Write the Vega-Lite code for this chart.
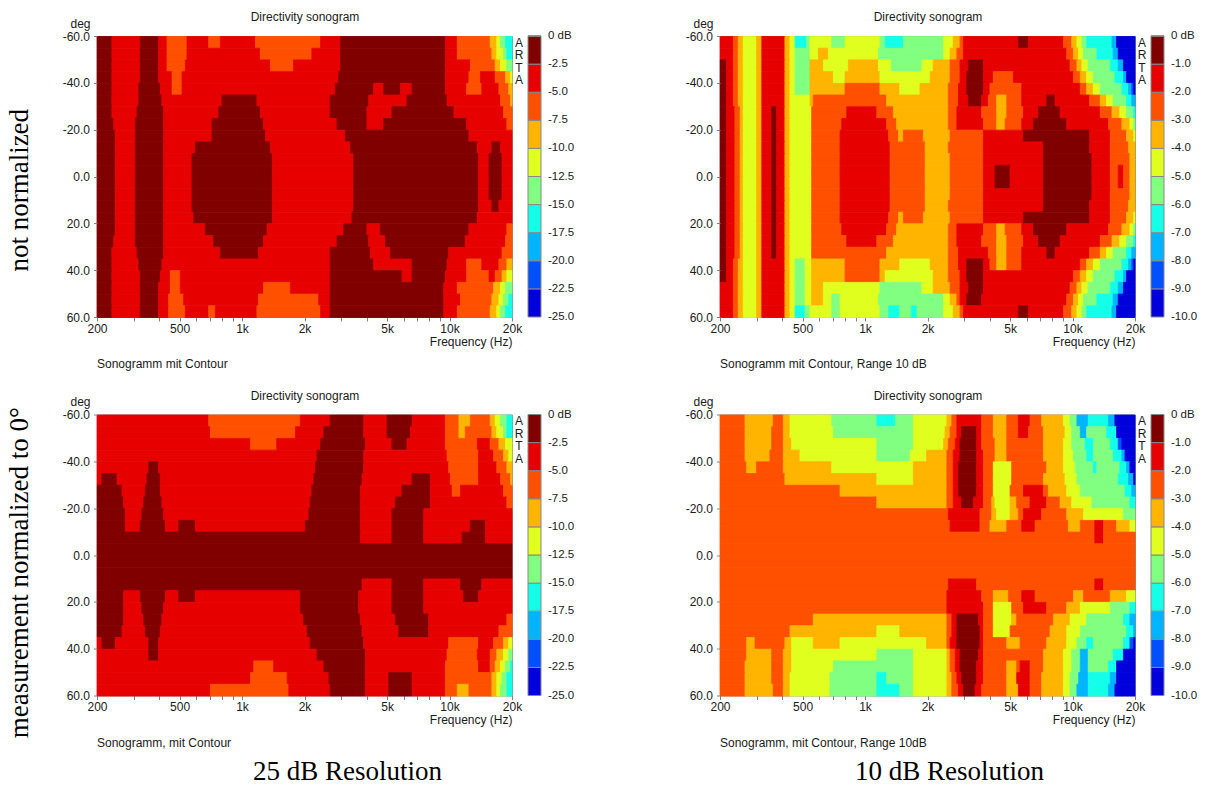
{
  "$schema": "https://vega.github.io/schema/vega-lite/v6.json",
  "padding": {"left": 5, "top": 10, "right": 0, "bottom": 0},
  "background": "white",
  "config": {
    "font": "Liberation Sans",
    "view": {"stroke": "#8c8c8c", "strokeWidth": 1},
    "axis": {"labelFont": "Liberation Sans", "labelFontSize": 12, "labelColor": "#1a1a1a", "titleFont": "Liberation Sans", "titleFontSize": 12, "titleFontWeight": "normal", "titleColor": "#1a1a1a", "tickColor": "#808080", "domain": false, "grid": false},
    "legend": {"labelFont": "Liberation Sans", "labelFontSize": 11.5, "labelColor": "#1a1a1a"},
    "title": {"font": "Liberation Sans", "fontSize": 12, "fontWeight": "normal", "color": "#1a1a1a"}
  },
  "spacing": 17.5,
  "resolve": {"scale": {"color": "independent", "stroke": "independent"}},
  "vconcat": [
    {
      "title": {"text": "not normalized", "orient": "left", "anchor": "middle", "font": "Liberation Serif", "fontSize": 27, "fontWeight": "normal", "color": "#000000", "offset": 28},
      "spacing": 108,
      "resolve": {"scale": {"color": "independent", "stroke": "independent"}},
      "hconcat": [
        {
          "width": 415, "height": 281,
          "data": {"name": "tl"},
          "title": {"text": "Sonogramm mit Contour", "orient": "bottom", "anchor": "start", "frame": "group", "offset": 12},
          "layer": [
            {
              "mark": {"type": "rect", "strokeWidth": 0.8},
              "encoding": {
                "x": {"field": "f", "type": "quantitative", "scale": {"type": "log", "domain": [200, 20000], "nice": false},
                  "axis": {"orient": "bottom", "values": [200, 300, 400, 500, 600, 700, 800, 900, 1000, 2000, 3000, 4000, 5000, 6000, 7000, 8000, 9000, 10000, 20000], "labelExpr": "indexof([200, 500, 1000, 2000, 5000, 10000, 20000], datum.value) < 0 ? '' : (datum.value >= 1000 ? (datum.value / 1000) + 'k' : '' + datum.value)", "labelOverlap": false, "labelFlush": false, "tickSize": 4, "labelPadding": 2, "title": "Frequency (Hz)", "titleAnchor": "end", "titlePadding": 2}},
                "x2": {"field": "g"},
                "y": {"field": "d", "type": "quantitative", "bin": {"step": 5, "extent": [-60, 60]}, "scale": {"domain": [-60, 60], "reverse": true, "nice": false, "zero": false},
                  "axis": {"values": [-60, -40, -20, 0, 20, 40, 60], "labelExpr": "(datum.value < 0 ? '-' : '') + format(abs(datum.value), '.1f')", "labelOverlap": false, "labelFlush": false, "tickSize": 3.5, "labelPadding": 4, "title": "deg", "titleAngle": 0, "titleAlign": "right", "titleBaseline": "middle", "titleX": -7, "titleY": -13}},
                "color": {"field": "v", "type": "quantitative", "scale": {"type": "quantize", "domain": [-25, 0], "nice": false, "range": ["#0000dc", "#0050ff", "#00b4ff", "#14ffe8", "#80ff80", "#e0ff1e", "#ffb400", "#ff5000", "#e60000", "#800000"]},
                  "legend": {"type": "gradient", "direction": "vertical", "orient": "right", "offset": 4.5, "title": null, "padding": 0, "gradientLength": 281, "gradientThickness": 13, "gradientStrokeColor": "#888888", "gradientStrokeWidth": 1, "values": [-25, -22.5, -20, -17.5, -15, -12.5, -10, -7.5, -5, -2.5, 0], "labelExpr": "datum.value == 0 ? '0 dB' : '-' + format(abs(datum.value), '.1f')", "labelOffset": 7, "labelOverlap": false, "labelBaseline": "middle", "encode": {"labels": {"update": {"baseline": {"value": "middle"}}}}}},
                "stroke": {"field": "v", "type": "quantitative", "scale": {"type": "quantize", "domain": [-25, 0], "nice": false, "range": ["#0000dc", "#0050ff", "#00b4ff", "#14ffe8", "#80ff80", "#e0ff1e", "#ffb400", "#ff5000", "#e60000", "#800000"]}, "legend": null}
              }
            },
            {
              "data": {"values": []},
              "mark": {"type": "point", "opacity": 0},
              "encoding": {
                "x": {"field": "f", "type": "quantitative", "scale": {"type": "log", "domain": [200, 20000], "nice": false}, "axis": {"orient": "top", "title": "Directivity sonogram", "labels": false, "ticks": false, "domain": false, "titlePadding": 12.5}},
                "y": {"field": "d", "type": "quantitative", "scale": {"domain": [-60, 60], "reverse": true, "nice": false, "zero": false}, "axis": {"orient": "right", "title": ["A", "R", "T", "A"], "labels": false, "ticks": false, "domain": false, "titleAngle": 0, "titleAlign": "center", "titleBaseline": "top", "titleX": 6.5, "titleY": 1, "titleLineHeight": 12.5}}
              }
            }
          ],
          "resolve": {"axis": {"x": "independent", "y": "independent"}}
        },
        {
          "width": 415, "height": 281,
          "data": {"name": "tr"},
          "title": {"text": "Sonogramm mit Contour, Range 10 dB", "orient": "bottom", "anchor": "start", "frame": "group", "offset": 12},
          "layer": [
            {
              "mark": {"type": "rect", "strokeWidth": 0.8},
              "encoding": {
                "x": {"field": "f", "type": "quantitative", "scale": {"type": "log", "domain": [200, 20000], "nice": false},
                  "axis": {"orient": "bottom", "values": [200, 300, 400, 500, 600, 700, 800, 900, 1000, 2000, 3000, 4000, 5000, 6000, 7000, 8000, 9000, 10000, 20000], "labelExpr": "indexof([200, 500, 1000, 2000, 5000, 10000, 20000], datum.value) < 0 ? '' : (datum.value >= 1000 ? (datum.value / 1000) + 'k' : '' + datum.value)", "labelOverlap": false, "labelFlush": false, "tickSize": 4, "labelPadding": 2, "title": "Frequency (Hz)", "titleAnchor": "end", "titlePadding": 2}},
                "x2": {"field": "g"},
                "y": {"field": "d", "type": "quantitative", "bin": {"step": 5, "extent": [-60, 60]}, "scale": {"domain": [-60, 60], "reverse": true, "nice": false, "zero": false},
                  "axis": {"values": [-60, -40, -20, 0, 20, 40, 60], "labelExpr": "(datum.value < 0 ? '-' : '') + format(abs(datum.value), '.1f')", "labelOverlap": false, "labelFlush": false, "tickSize": 3.5, "labelPadding": 4, "title": "deg", "titleAngle": 0, "titleAlign": "right", "titleBaseline": "middle", "titleX": -7, "titleY": -13}},
                "color": {"field": "v", "type": "quantitative", "scale": {"type": "quantize", "domain": [-10, 0], "nice": false, "range": ["#0000dc", "#0050ff", "#00b4ff", "#14ffe8", "#80ff80", "#e0ff1e", "#ffb400", "#ff5000", "#e60000", "#800000"]},
                  "legend": {"type": "gradient", "direction": "vertical", "orient": "right", "offset": 4.5, "title": null, "padding": 0, "gradientLength": 281, "gradientThickness": 13, "gradientStrokeColor": "#888888", "gradientStrokeWidth": 1, "values": [-10, -9, -8, -7, -6, -5, -4, -3, -2, -1, 0], "labelExpr": "datum.value == 0 ? '0 dB' : '-' + format(abs(datum.value), '.1f')", "labelOffset": 7, "labelOverlap": false, "labelBaseline": "middle", "encode": {"labels": {"update": {"baseline": {"value": "middle"}}}}}},
                "stroke": {"field": "v", "type": "quantitative", "scale": {"type": "quantize", "domain": [-10, 0], "nice": false, "range": ["#0000dc", "#0050ff", "#00b4ff", "#14ffe8", "#80ff80", "#e0ff1e", "#ffb400", "#ff5000", "#e60000", "#800000"]}, "legend": null}
              }
            },
            {
              "data": {"values": []},
              "mark": {"type": "point", "opacity": 0},
              "encoding": {
                "x": {"field": "f", "type": "quantitative", "scale": {"type": "log", "domain": [200, 20000], "nice": false}, "axis": {"orient": "top", "title": "Directivity sonogram", "labels": false, "ticks": false, "domain": false, "titlePadding": 12.5}},
                "y": {"field": "d", "type": "quantitative", "scale": {"domain": [-60, 60], "reverse": true, "nice": false, "zero": false}, "axis": {"orient": "right", "title": ["A", "R", "T", "A"], "labels": false, "ticks": false, "domain": false, "titleAngle": 0, "titleAlign": "center", "titleBaseline": "top", "titleX": 6.5, "titleY": 1, "titleLineHeight": 12.5}}
              }
            }
          ],
          "resolve": {"axis": {"x": "independent", "y": "independent"}}
        }
      ]
    },
    {
      "title": {"text": "measurement normalized to 0°", "orient": "left", "anchor": "middle", "font": "Liberation Serif", "fontSize": 27, "fontWeight": "normal", "color": "#000000", "offset": 28, "dx": 14},
      "spacing": 108,
      "resolve": {"scale": {"color": "independent", "stroke": "independent"}},
      "hconcat": [
        {
          "title": {"text": "25 dB Resolution", "orient": "bottom", "anchor": "middle", "font": "Liberation Serif", "fontSize": 27, "fontWeight": "normal", "color": "#000000", "offset": 10, "dx": 29},
          "resolve": {"scale": {"color": "independent", "stroke": "independent"}},
          "vconcat": [
            {
              "width": 415, "height": 281,
              "data": {"name": "bl"},
              "title": {"text": "Sonogramm, mit Contour", "orient": "bottom", "anchor": "start", "frame": "group", "offset": 12},
              "layer": [
                {
                  "mark": {"type": "rect", "strokeWidth": 0.8},
                  "encoding": {
                    "x": {"field": "f", "type": "quantitative", "scale": {"type": "log", "domain": [200, 20000], "nice": false},
                      "axis": {"orient": "bottom", "values": [200, 300, 400, 500, 600, 700, 800, 900, 1000, 2000, 3000, 4000, 5000, 6000, 7000, 8000, 9000, 10000, 20000], "labelExpr": "indexof([200, 500, 1000, 2000, 5000, 10000, 20000], datum.value) < 0 ? '' : (datum.value >= 1000 ? (datum.value / 1000) + 'k' : '' + datum.value)", "labelOverlap": false, "labelFlush": false, "tickSize": 4, "labelPadding": 2, "title": "Frequency (Hz)", "titleAnchor": "end", "titlePadding": 2}},
                    "x2": {"field": "g"},
                    "y": {"field": "d", "type": "quantitative", "bin": {"step": 5, "extent": [-60, 60]}, "scale": {"domain": [-60, 60], "reverse": true, "nice": false, "zero": false},
                      "axis": {"values": [-60, -40, -20, 0, 20, 40, 60], "labelExpr": "(datum.value < 0 ? '-' : '') + format(abs(datum.value), '.1f')", "labelOverlap": false, "labelFlush": false, "tickSize": 3.5, "labelPadding": 4, "title": "deg", "titleAngle": 0, "titleAlign": "right", "titleBaseline": "middle", "titleX": -7, "titleY": -13}},
                    "color": {"field": "v", "type": "quantitative", "scale": {"type": "quantize", "domain": [-25, 0], "nice": false, "range": ["#0000dc", "#0050ff", "#00b4ff", "#14ffe8", "#80ff80", "#e0ff1e", "#ffb400", "#ff5000", "#e60000", "#800000"]},
                      "legend": {"type": "gradient", "direction": "vertical", "orient": "right", "offset": 4.5, "title": null, "padding": 0, "gradientLength": 281, "gradientThickness": 13, "gradientStrokeColor": "#888888", "gradientStrokeWidth": 1, "values": [-25, -22.5, -20, -17.5, -15, -12.5, -10, -7.5, -5, -2.5, 0], "labelExpr": "datum.value == 0 ? '0 dB' : '-' + format(abs(datum.value), '.1f')", "labelOffset": 7, "labelOverlap": false, "labelBaseline": "middle", "encode": {"labels": {"update": {"baseline": {"value": "middle"}}}}}},
                    "stroke": {"field": "v", "type": "quantitative", "scale": {"type": "quantize", "domain": [-25, 0], "nice": false, "range": ["#0000dc", "#0050ff", "#00b4ff", "#14ffe8", "#80ff80", "#e0ff1e", "#ffb400", "#ff5000", "#e60000", "#800000"]}, "legend": null}
                  }
                },
                {
                  "data": {"values": []},
                  "mark": {"type": "point", "opacity": 0},
                  "encoding": {
                    "x": {"field": "f", "type": "quantitative", "scale": {"type": "log", "domain": [200, 20000], "nice": false}, "axis": {"orient": "top", "title": "Directivity sonogram", "labels": false, "ticks": false, "domain": false, "titlePadding": 12.5}},
                    "y": {"field": "d", "type": "quantitative", "scale": {"domain": [-60, 60], "reverse": true, "nice": false, "zero": false}, "axis": {"orient": "right", "title": ["A", "R", "T", "A"], "labels": false, "ticks": false, "domain": false, "titleAngle": 0, "titleAlign": "center", "titleBaseline": "top", "titleX": 6.5, "titleY": 1, "titleLineHeight": 12.5}}
                  }
                }
              ],
              "resolve": {"axis": {"x": "independent", "y": "independent"}}
            }
          ]
        },
        {
          "title": {"text": "10 dB Resolution", "orient": "bottom", "anchor": "middle", "font": "Liberation Serif", "fontSize": 27, "fontWeight": "normal", "color": "#000000", "offset": 10, "dx": 8},
          "resolve": {"scale": {"color": "independent", "stroke": "independent"}},
          "vconcat": [
            {
              "width": 415, "height": 281,
              "data": {"name": "br"},
              "title": {"text": "Sonogramm, mit Contour, Range 10dB", "orient": "bottom", "anchor": "start", "frame": "group", "offset": 12},
              "layer": [
                {
                  "mark": {"type": "rect", "strokeWidth": 0.8},
                  "encoding": {
                    "x": {"field": "f", "type": "quantitative", "scale": {"type": "log", "domain": [200, 20000], "nice": false},
                      "axis": {"orient": "bottom", "values": [200, 300, 400, 500, 600, 700, 800, 900, 1000, 2000, 3000, 4000, 5000, 6000, 7000, 8000, 9000, 10000, 20000], "labelExpr": "indexof([200, 500, 1000, 2000, 5000, 10000, 20000], datum.value) < 0 ? '' : (datum.value >= 1000 ? (datum.value / 1000) + 'k' : '' + datum.value)", "labelOverlap": false, "labelFlush": false, "tickSize": 4, "labelPadding": 2, "title": "Frequency (Hz)", "titleAnchor": "end", "titlePadding": 2}},
                    "x2": {"field": "g"},
                    "y": {"field": "d", "type": "quantitative", "bin": {"step": 5, "extent": [-60, 60]}, "scale": {"domain": [-60, 60], "reverse": true, "nice": false, "zero": false},
                      "axis": {"values": [-60, -40, -20, 0, 20, 40, 60], "labelExpr": "(datum.value < 0 ? '-' : '') + format(abs(datum.value), '.1f')", "labelOverlap": false, "labelFlush": false, "tickSize": 3.5, "labelPadding": 4, "title": "deg", "titleAngle": 0, "titleAlign": "right", "titleBaseline": "middle", "titleX": -7, "titleY": -13}},
                    "color": {"field": "v", "type": "quantitative", "scale": {"type": "quantize", "domain": [-10, 0], "nice": false, "range": ["#0000dc", "#0050ff", "#00b4ff", "#14ffe8", "#80ff80", "#e0ff1e", "#ffb400", "#ff5000", "#e60000", "#800000"]},
                      "legend": {"type": "gradient", "direction": "vertical", "orient": "right", "offset": 4.5, "title": null, "padding": 0, "gradientLength": 281, "gradientThickness": 13, "gradientStrokeColor": "#888888", "gradientStrokeWidth": 1, "values": [-10, -9, -8, -7, -6, -5, -4, -3, -2, -1, 0], "labelExpr": "datum.value == 0 ? '0 dB' : '-' + format(abs(datum.value), '.1f')", "labelOffset": 7, "labelOverlap": false, "labelBaseline": "middle", "encode": {"labels": {"update": {"baseline": {"value": "middle"}}}}}},
                    "stroke": {"field": "v", "type": "quantitative", "scale": {"type": "quantize", "domain": [-10, 0], "nice": false, "range": ["#0000dc", "#0050ff", "#00b4ff", "#14ffe8", "#80ff80", "#e0ff1e", "#ffb400", "#ff5000", "#e60000", "#800000"]}, "legend": null}
                  }
                },
                {
                  "data": {"values": []},
                  "mark": {"type": "point", "opacity": 0},
                  "encoding": {
                    "x": {"field": "f", "type": "quantitative", "scale": {"type": "log", "domain": [200, 20000], "nice": false}, "axis": {"orient": "top", "title": "Directivity sonogram", "labels": false, "ticks": false, "domain": false, "titlePadding": 12.5}},
                    "y": {"field": "d", "type": "quantitative", "scale": {"domain": [-60, 60], "reverse": true, "nice": false, "zero": false}, "axis": {"orient": "right", "title": ["A", "R", "T", "A"], "labels": false, "ticks": false, "domain": false, "titleAngle": 0, "titleAlign": "center", "titleBaseline": "top", "titleX": 6.5, "titleY": 1, "titleLineHeight": 12.5}}
                  }
                }
              ],
              "resolve": {"axis": {"x": "independent", "y": "independent"}}
            }
          ]
        }
      ]
    }
  ],
  "datasets": {
    "tl": [
      {"d":-60,"f":200,"g":236,"v":-1},{"d":-60,"f":236,"g":323,"v":-4},{"d":-60,"f":323,"g":396,"v":-1},{"d":-60,"f":396,"g":435,"v":-4},{"d":-60,"f":435,"g":543,"v":-6},{"d":-60,"f":543,"g":691,"v":-4},{"d":-60,"f":691,"g":786,"v":-6},{"d":-60,"f":786,"g":1160,"v":-4},{"d":-60,"f":1160,"g":2390,"v":-6},{"d":-60,"f":2390,"g":2980,"v":-4},{"d":-60,"f":2980,"g":9550,"v":-1},{"d":-60,"f":9550,"g":10900,"v":-4},{"d":-60,"f":10900,"g":15700,"v":-6},{"d":-60,"f":15700,"g":16900,"v":-9},{"d":-60,"f":16900,"g":17600,"v":-11},{"d":-60,"f":17600,"g":18600,"v":-14},{"d":-60,"f":18600,"g":20000,"v":-16},
      {"d":-55,"f":200,"g":236,"v":-1},{"d":-55,"f":236,"g":323,"v":-4},{"d":-55,"f":323,"g":396,"v":-1},{"d":-55,"f":396,"g":435,"v":-4},{"d":-55,"f":435,"g":543,"v":-6},{"d":-55,"f":543,"g":1225,"v":-4},{"d":-55,"f":1225,"g":2170,"v":-6},{"d":-55,"f":2170,"g":2980,"v":-4},{"d":-55,"f":2980,"g":9550,"v":-1},{"d":-55,"f":9550,"g":10900,"v":-4},{"d":-55,"f":10900,"g":16000,"v":-6},{"d":-55,"f":16000,"g":16900,"v":-9},{"d":-55,"f":16900,"g":18200,"v":-11},{"d":-55,"f":18200,"g":18900,"v":-14},{"d":-55,"f":18900,"g":20000,"v":-16},
      {"d":-50,"f":200,"g":236,"v":-1},{"d":-50,"f":236,"g":323,"v":-4},{"d":-50,"f":323,"g":396,"v":-1},{"d":-50,"f":396,"g":435,"v":-4},{"d":-50,"f":435,"g":533,"v":-6},{"d":-50,"f":533,"g":1370,"v":-4},{"d":-50,"f":1370,"g":1770,"v":-6},{"d":-50,"f":1770,"g":2980,"v":-4},{"d":-50,"f":2980,"g":9550,"v":-1},{"d":-50,"f":9550,"g":12600,"v":-4},{"d":-50,"f":12600,"g":16600,"v":-6},{"d":-50,"f":16600,"g":17600,"v":-9},{"d":-50,"f":17600,"g":18900,"v":-11},{"d":-50,"f":18900,"g":20000,"v":-14},
      {"d":-45,"f":200,"g":236,"v":-1},{"d":-45,"f":236,"g":323,"v":-4},{"d":-45,"f":323,"g":396,"v":-1},{"d":-45,"f":396,"g":460,"v":-4},{"d":-45,"f":460,"g":514,"v":-6},{"d":-45,"f":514,"g":2920,"v":-4},{"d":-45,"f":2920,"g":9550,"v":-1},{"d":-45,"f":9550,"g":12400,"v":-4},{"d":-45,"f":12400,"g":14100,"v":-6},{"d":-45,"f":14100,"g":16600,"v":-4},{"d":-45,"f":16600,"g":18600,"v":-6},{"d":-45,"f":18600,"g":19700,"v":-9},{"d":-45,"f":19700,"g":20000,"v":-11},
      {"d":-40,"f":200,"g":236,"v":-1},{"d":-40,"f":236,"g":318,"v":-4},{"d":-40,"f":318,"g":404,"v":-1},{"d":-40,"f":404,"g":460,"v":-4},{"d":-40,"f":460,"g":514,"v":-6},{"d":-40,"f":514,"g":2820,"v":-4},{"d":-40,"f":2820,"g":4310,"v":-1},{"d":-40,"f":4310,"g":4820,"v":-4},{"d":-40,"f":4820,"g":5800,"v":-1},{"d":-40,"f":5800,"g":6600,"v":-4},{"d":-40,"f":6600,"g":9550,"v":-1},{"d":-40,"f":9550,"g":12100,"v":-4},{"d":-40,"f":12100,"g":14300,"v":-6},{"d":-40,"f":14300,"g":17300,"v":-4},{"d":-40,"f":17300,"g":19300,"v":-6},{"d":-40,"f":19300,"g":20000,"v":-9},
      {"d":-35,"f":200,"g":236,"v":-1},{"d":-35,"f":236,"g":318,"v":-4},{"d":-35,"f":318,"g":411,"v":-1},{"d":-35,"f":411,"g":801,"v":-4},{"d":-35,"f":801,"g":1180,"v":-1},{"d":-35,"f":1180,"g":2660,"v":-4},{"d":-35,"f":2660,"g":4080,"v":-1},{"d":-35,"f":4080,"g":6240,"v":-4},{"d":-35,"f":6240,"g":9730,"v":-1},{"d":-35,"f":9730,"g":17600,"v":-4},{"d":-35,"f":17600,"g":19700,"v":-6},{"d":-35,"f":19700,"g":20000,"v":-9},
      {"d":-30,"f":200,"g":236,"v":-1},{"d":-30,"f":236,"g":312,"v":-4},{"d":-30,"f":312,"g":419,"v":-1},{"d":-30,"f":419,"g":772,"v":-4},{"d":-30,"f":772,"g":1225,"v":-1},{"d":-30,"f":1225,"g":2660,"v":-4},{"d":-30,"f":2660,"g":4000,"v":-1},{"d":-30,"f":4000,"g":5280,"v":-4},{"d":-30,"f":5280,"g":10500,"v":-1},{"d":-30,"f":10500,"g":18200,"v":-4},{"d":-30,"f":18200,"g":20000,"v":-6},
      {"d":-25,"f":200,"g":241,"v":-1},{"d":-25,"f":241,"g":306,"v":-4},{"d":-25,"f":306,"g":419,"v":-1},{"d":-25,"f":419,"g":717,"v":-4},{"d":-25,"f":717,"g":1270,"v":-1},{"d":-25,"f":1270,"g":2870,"v":-4},{"d":-25,"f":2870,"g":4000,"v":-1},{"d":-25,"f":4000,"g":4820,"v":-4},{"d":-25,"f":4820,"g":12100,"v":-1},{"d":-25,"f":12100,"g":18900,"v":-4},{"d":-25,"f":18900,"g":20000,"v":-6},
      {"d":-20,"f":200,"g":245,"v":-1},{"d":-20,"f":245,"g":306,"v":-4},{"d":-20,"f":306,"g":419,"v":-1},{"d":-20,"f":419,"g":717,"v":-4},{"d":-20,"f":717,"g":1300,"v":-1},{"d":-20,"f":1300,"g":3150,"v":-4},{"d":-20,"f":3150,"g":12400,"v":-1},{"d":-20,"f":12400,"g":20000,"v":-4},
      {"d":-15,"f":200,"g":245,"v":-1},{"d":-15,"f":245,"g":306,"v":-4},{"d":-15,"f":306,"g":419,"v":-1},{"d":-15,"f":419,"g":596,"v":-4},{"d":-15,"f":596,"g":1370,"v":-1},{"d":-15,"f":1370,"g":3330,"v":-4},{"d":-15,"f":3330,"g":13600,"v":-1},{"d":-15,"f":13600,"g":16000,"v":-4},{"d":-15,"f":16000,"g":17600,"v":-1},{"d":-15,"f":17600,"g":20000,"v":-4},
      {"d":-10,"f":200,"g":245,"v":-1},{"d":-10,"f":245,"g":306,"v":-4},{"d":-10,"f":306,"g":419,"v":-1},{"d":-10,"f":419,"g":574,"v":-4},{"d":-10,"f":574,"g":1400,"v":-1},{"d":-10,"f":1400,"g":3450,"v":-4},{"d":-10,"f":3450,"g":13800,"v":-1},{"d":-10,"f":13800,"g":15500,"v":-4},{"d":-10,"f":15500,"g":17900,"v":-1},{"d":-10,"f":17900,"g":20000,"v":-4},
      {"d":-5,"f":200,"g":245,"v":-1},{"d":-5,"f":245,"g":306,"v":-4},{"d":-5,"f":306,"g":419,"v":-1},{"d":-5,"f":419,"g":574,"v":-4},{"d":-5,"f":574,"g":1400,"v":-1},{"d":-5,"f":1400,"g":3450,"v":-4},{"d":-5,"f":3450,"g":13800,"v":-1},{"d":-5,"f":13800,"g":15500,"v":-4},{"d":-5,"f":15500,"g":17900,"v":-1},{"d":-5,"f":17900,"g":20000,"v":-4},
      {"d":0,"f":200,"g":245,"v":-1},{"d":0,"f":245,"g":306,"v":-4},{"d":0,"f":306,"g":419,"v":-1},{"d":0,"f":419,"g":574,"v":-4},{"d":0,"f":574,"g":1400,"v":-1},{"d":0,"f":1400,"g":3450,"v":-4},{"d":0,"f":3450,"g":13800,"v":-1},{"d":0,"f":13800,"g":15500,"v":-4},{"d":0,"f":15500,"g":17900,"v":-1},{"d":0,"f":17900,"g":20000,"v":-4},
      {"d":5,"f":200,"g":245,"v":-1},{"d":5,"f":245,"g":306,"v":-4},{"d":5,"f":306,"g":419,"v":-1},{"d":5,"f":419,"g":574,"v":-4},{"d":5,"f":574,"g":1400,"v":-1},{"d":5,"f":1400,"g":3450,"v":-4},{"d":5,"f":3450,"g":13800,"v":-1},{"d":5,"f":13800,"g":15500,"v":-4},{"d":5,"f":15500,"g":17900,"v":-1},{"d":5,"f":17900,"g":20000,"v":-4},
      {"d":10,"f":200,"g":245,"v":-1},{"d":10,"f":245,"g":306,"v":-4},{"d":10,"f":306,"g":419,"v":-1},{"d":10,"f":419,"g":574,"v":-4},{"d":10,"f":574,"g":1400,"v":-1},{"d":10,"f":1400,"g":3450,"v":-4},{"d":10,"f":3450,"g":13800,"v":-1},{"d":10,"f":13800,"g":16000,"v":-4},{"d":10,"f":16000,"g":17300,"v":-1},{"d":10,"f":17300,"g":20000,"v":-4},
      {"d":15,"f":200,"g":245,"v":-1},{"d":15,"f":245,"g":306,"v":-4},{"d":15,"f":306,"g":419,"v":-1},{"d":15,"f":419,"g":585,"v":-4},{"d":15,"f":585,"g":1400,"v":-1},{"d":15,"f":1400,"g":3390,"v":-4},{"d":15,"f":3390,"g":13600,"v":-1},{"d":15,"f":13600,"g":20000,"v":-4},
      {"d":20,"f":200,"g":245,"v":-1},{"d":20,"f":245,"g":306,"v":-4},{"d":20,"f":306,"g":419,"v":-1},{"d":20,"f":419,"g":666,"v":-4},{"d":20,"f":666,"g":1320,"v":-1},{"d":20,"f":1320,"g":3090,"v":-4},{"d":20,"f":3090,"g":4000,"v":-1},{"d":20,"f":4000,"g":4640,"v":-4},{"d":20,"f":4640,"g":12400,"v":-1},{"d":20,"f":12400,"g":18900,"v":-4},{"d":20,"f":18900,"g":20000,"v":-6},
      {"d":25,"f":200,"g":241,"v":-1},{"d":25,"f":241,"g":306,"v":-4},{"d":25,"f":306,"g":419,"v":-1},{"d":25,"f":419,"g":730,"v":-4},{"d":25,"f":730,"g":1270,"v":-1},{"d":25,"f":1270,"g":2870,"v":-4},{"d":25,"f":2870,"g":4080,"v":-1},{"d":25,"f":4080,"g":4910,"v":-4},{"d":25,"f":4910,"g":11900,"v":-1},{"d":25,"f":11900,"g":18600,"v":-4},{"d":25,"f":18600,"g":20000,"v":-6},
      {"d":30,"f":200,"g":236,"v":-1},{"d":30,"f":236,"g":312,"v":-4},{"d":30,"f":312,"g":419,"v":-1},{"d":30,"f":419,"g":786,"v":-4},{"d":30,"f":786,"g":1200,"v":-1},{"d":30,"f":1200,"g":2660,"v":-4},{"d":30,"f":2660,"g":4150,"v":-1},{"d":30,"f":4150,"g":5190,"v":-4},{"d":30,"f":5190,"g":9910,"v":-1},{"d":30,"f":9910,"g":17900,"v":-4},{"d":30,"f":17900,"g":20000,"v":-6},
      {"d":35,"f":200,"g":236,"v":-1},{"d":35,"f":236,"g":318,"v":-4},{"d":35,"f":318,"g":411,"v":-1},{"d":35,"f":411,"g":2660,"v":-4},{"d":35,"f":2660,"g":4310,"v":-1},{"d":35,"f":4310,"g":6600,"v":-4},{"d":35,"f":6600,"g":9730,"v":-1},{"d":35,"f":9730,"g":12100,"v":-4},{"d":35,"f":12100,"g":14300,"v":-6},{"d":35,"f":14300,"g":17300,"v":-4},{"d":35,"f":17300,"g":18900,"v":-6},{"d":35,"f":18900,"g":20000,"v":-9},
      {"d":40,"f":200,"g":236,"v":-1},{"d":40,"f":236,"g":323,"v":-4},{"d":40,"f":323,"g":404,"v":-1},{"d":40,"f":404,"g":451,"v":-4},{"d":40,"f":451,"g":504,"v":-6},{"d":40,"f":504,"g":2660,"v":-4},{"d":40,"f":2660,"g":5900,"v":-1},{"d":40,"f":5900,"g":6600,"v":-4},{"d":40,"f":6600,"g":9550,"v":-1},{"d":40,"f":9550,"g":12100,"v":-4},{"d":40,"f":12100,"g":15500,"v":-6},{"d":40,"f":15500,"g":16600,"v":-4},{"d":40,"f":16600,"g":17900,"v":-6},{"d":40,"f":17900,"g":18900,"v":-9},{"d":40,"f":18900,"g":20000,"v":-11},
      {"d":45,"f":200,"g":236,"v":-1},{"d":45,"f":236,"g":323,"v":-4},{"d":45,"f":323,"g":396,"v":-1},{"d":45,"f":396,"g":451,"v":-4},{"d":45,"f":451,"g":504,"v":-6},{"d":45,"f":504,"g":1270,"v":-4},{"d":45,"f":1270,"g":1710,"v":-6},{"d":45,"f":1710,"g":2660,"v":-4},{"d":45,"f":2660,"g":9380,"v":-1},{"d":45,"f":9380,"g":10900,"v":-4},{"d":45,"f":10900,"g":16300,"v":-6},{"d":45,"f":16300,"g":17600,"v":-9},{"d":45,"f":17600,"g":18600,"v":-11},{"d":45,"f":18600,"g":20000,"v":-14},
      {"d":50,"f":200,"g":236,"v":-1},{"d":50,"f":236,"g":323,"v":-4},{"d":50,"f":323,"g":396,"v":-1},{"d":50,"f":396,"g":443,"v":-4},{"d":50,"f":443,"g":523,"v":-6},{"d":50,"f":523,"g":1200,"v":-4},{"d":50,"f":1200,"g":2340,"v":-6},{"d":50,"f":2340,"g":2660,"v":-4},{"d":50,"f":2660,"g":9380,"v":-1},{"d":50,"f":9380,"g":11300,"v":-4},{"d":50,"f":11300,"g":16000,"v":-6},{"d":50,"f":16000,"g":17300,"v":-9},{"d":50,"f":17300,"g":18200,"v":-11},{"d":50,"f":18200,"g":19300,"v":-14},{"d":50,"f":19300,"g":20000,"v":-16},
      {"d":55,"f":200,"g":236,"v":-1},{"d":55,"f":236,"g":323,"v":-4},{"d":55,"f":323,"g":396,"v":-1},{"d":55,"f":396,"g":443,"v":-4},{"d":55,"f":443,"g":533,"v":-6},{"d":55,"f":533,"g":691,"v":-4},{"d":55,"f":691,"g":744,"v":-6},{"d":55,"f":744,"g":1180,"v":-4},{"d":55,"f":1180,"g":2390,"v":-6},{"d":55,"f":2390,"g":2660,"v":-4},{"d":55,"f":2660,"g":9380,"v":-1},{"d":55,"f":9380,"g":10900,"v":-4},{"d":55,"f":10900,"g":15700,"v":-6},{"d":55,"f":15700,"g":16900,"v":-9},{"d":55,"f":16900,"g":17600,"v":-11},{"d":55,"f":17600,"g":18600,"v":-14},{"d":55,"f":18600,"g":20000,"v":-16}
    ],
    "bl": [
      {"d":-60,"f":200,"g":691,"v":-4},{"d":-60,"f":691,"g":1910,"v":-6},{"d":-60,"f":1910,"g":2660,"v":-4},{"d":-60,"f":2660,"g":3860,"v":-1},{"d":-60,"f":3860,"g":5000,"v":-4},{"d":-60,"f":5000,"g":6600,"v":-1},{"d":-60,"f":6600,"g":9550,"v":-4},{"d":-60,"f":9550,"g":11100,"v":-6},{"d":-60,"f":11100,"g":12600,"v":-9},{"d":-60,"f":12600,"g":15700,"v":-6},{"d":-60,"f":15700,"g":16600,"v":-9},{"d":-60,"f":16600,"g":17600,"v":-11},{"d":-60,"f":17600,"g":18900,"v":-14},{"d":-60,"f":18900,"g":20000,"v":-16},
      {"d":-55,"f":200,"g":704,"v":-4},{"d":-55,"f":704,"g":1810,"v":-6},{"d":-55,"f":1810,"g":2480,"v":-4},{"d":-55,"f":2480,"g":3860,"v":-1},{"d":-55,"f":3860,"g":5000,"v":-4},{"d":-55,"f":5000,"g":6480,"v":-1},{"d":-55,"f":6480,"g":9550,"v":-4},{"d":-55,"f":9550,"g":11100,"v":-6},{"d":-55,"f":11100,"g":11900,"v":-9},{"d":-55,"f":11900,"g":16000,"v":-6},{"d":-55,"f":16000,"g":16900,"v":-9},{"d":-55,"f":16900,"g":18200,"v":-11},{"d":-55,"f":18200,"g":18900,"v":-14},{"d":-55,"f":18900,"g":20000,"v":-16},
      {"d":-50,"f":200,"g":1100,"v":-4},{"d":-50,"f":1100,"g":1470,"v":-6},{"d":-50,"f":1470,"g":2390,"v":-4},{"d":-50,"f":2390,"g":3930,"v":-1},{"d":-50,"f":3930,"g":5280,"v":-4},{"d":-50,"f":5280,"g":6240,"v":-1},{"d":-50,"f":6240,"g":9550,"v":-4},{"d":-50,"f":9550,"g":13600,"v":-6},{"d":-50,"f":13600,"g":15700,"v":-4},{"d":-50,"f":15700,"g":17300,"v":-6},{"d":-50,"f":17300,"g":18600,"v":-9},{"d":-50,"f":18600,"g":20000,"v":-11},
      {"d":-45,"f":200,"g":2300,"v":-4},{"d":-45,"f":2300,"g":3860,"v":-1},{"d":-45,"f":3860,"g":9730,"v":-4},{"d":-45,"f":9730,"g":13800,"v":-6},{"d":-45,"f":13800,"g":16300,"v":-4},{"d":-45,"f":16300,"g":18200,"v":-6},{"d":-45,"f":18200,"g":19300,"v":-9},{"d":-45,"f":19300,"g":20000,"v":-11},
      {"d":-40,"f":200,"g":355,"v":-4},{"d":-40,"f":355,"g":396,"v":-1},{"d":-40,"f":396,"g":2260,"v":-4},{"d":-40,"f":2260,"g":3860,"v":-1},{"d":-40,"f":3860,"g":9910,"v":-4},{"d":-40,"f":9910,"g":13800,"v":-6},{"d":-40,"f":13800,"g":16900,"v":-4},{"d":-40,"f":16900,"g":18900,"v":-6},{"d":-40,"f":18900,"g":20000,"v":-9},
      {"d":-35,"f":200,"g":211,"v":-4},{"d":-35,"f":211,"g":250,"v":-1},{"d":-35,"f":250,"g":348,"v":-4},{"d":-35,"f":348,"g":404,"v":-1},{"d":-35,"f":404,"g":2220,"v":-4},{"d":-35,"f":2220,"g":3790,"v":-1},{"d":-35,"f":3790,"g":6600,"v":-4},{"d":-35,"f":6600,"g":8090,"v":-1},{"d":-35,"f":8090,"g":10100,"v":-4},{"d":-35,"f":10100,"g":13800,"v":-6},{"d":-35,"f":13800,"g":17600,"v":-4},{"d":-35,"f":17600,"g":19700,"v":-6},{"d":-35,"f":19700,"g":20000,"v":-9},
      {"d":-30,"f":200,"g":264,"v":-1},{"d":-30,"f":264,"g":342,"v":-4},{"d":-30,"f":342,"g":404,"v":-1},{"d":-30,"f":404,"g":2170,"v":-4},{"d":-30,"f":2170,"g":3720,"v":-1},{"d":-30,"f":3720,"g":5900,"v":-4},{"d":-30,"f":5900,"g":8090,"v":-1},{"d":-30,"f":8090,"g":10300,"v":-4},{"d":-30,"f":10300,"g":11300,"v":-6},{"d":-30,"f":11300,"g":18200,"v":-4},{"d":-30,"f":18200,"g":20000,"v":-6},
      {"d":-25,"f":200,"g":269,"v":-1},{"d":-25,"f":269,"g":336,"v":-4},{"d":-25,"f":336,"g":411,"v":-1},{"d":-25,"f":411,"g":2130,"v":-4},{"d":-25,"f":2130,"g":3720,"v":-1},{"d":-25,"f":3720,"g":5480,"v":-4},{"d":-25,"f":5480,"g":8090,"v":-1},{"d":-25,"f":8090,"g":18900,"v":-4},{"d":-25,"f":18900,"g":20000,"v":-6},
      {"d":-20,"f":200,"g":274,"v":-1},{"d":-20,"f":274,"g":329,"v":-4},{"d":-20,"f":329,"g":419,"v":-1},{"d":-20,"f":419,"g":2100,"v":-4},{"d":-20,"f":2100,"g":3720,"v":-1},{"d":-20,"f":3720,"g":5280,"v":-4},{"d":-20,"f":5280,"g":7510,"v":-1},{"d":-20,"f":7510,"g":20000,"v":-4},
      {"d":-15,"f":200,"g":274,"v":-1},{"d":-15,"f":274,"g":323,"v":-4},{"d":-15,"f":323,"g":427,"v":-1},{"d":-15,"f":427,"g":495,"v":-4},{"d":-15,"f":495,"g":596,"v":-1},{"d":-15,"f":596,"g":2020,"v":-4},{"d":-15,"f":2020,"g":3720,"v":-1},{"d":-15,"f":3720,"g":5280,"v":-4},{"d":-15,"f":5280,"g":7510,"v":-1},{"d":-15,"f":7510,"g":12600,"v":-4},{"d":-15,"f":12600,"g":14900,"v":-1},{"d":-15,"f":14900,"g":20000,"v":-4},
      {"d":-10,"f":200,"g":3720,"v":-1},{"d":-10,"f":3720,"g":5280,"v":-4},{"d":-10,"f":5280,"g":7510,"v":-1},{"d":-10,"f":7510,"g":11500,"v":-4},{"d":-10,"f":11500,"g":14900,"v":-1},{"d":-10,"f":14900,"g":20000,"v":-4},
      {"d":-5,"f":200,"g":20000,"v":-1},
      {"d":0,"f":200,"g":20000,"v":-1},
      {"d":5,"f":200,"g":20000,"v":-1},
      {"d":10,"f":200,"g":3790,"v":-1},{"d":10,"f":3790,"g":5280,"v":-4},{"d":10,"f":5280,"g":7510,"v":-1},{"d":10,"f":7510,"g":11300,"v":-4},{"d":10,"f":11300,"g":14300,"v":-1},{"d":10,"f":14300,"g":20000,"v":-4},
      {"d":15,"f":200,"g":269,"v":-1},{"d":15,"f":269,"g":323,"v":-4},{"d":15,"f":323,"g":427,"v":-1},{"d":15,"f":427,"g":495,"v":-4},{"d":15,"f":495,"g":596,"v":-1},{"d":15,"f":596,"g":1910,"v":-4},{"d":15,"f":1910,"g":3650,"v":-1},{"d":15,"f":3650,"g":5280,"v":-4},{"d":15,"f":5280,"g":7510,"v":-1},{"d":15,"f":7510,"g":11700,"v":-4},{"d":15,"f":11700,"g":13800,"v":-1},{"d":15,"f":13800,"g":20000,"v":-4},
      {"d":20,"f":200,"g":269,"v":-1},{"d":20,"f":269,"g":329,"v":-4},{"d":20,"f":329,"g":419,"v":-1},{"d":20,"f":419,"g":1910,"v":-4},{"d":20,"f":1910,"g":3650,"v":-1},{"d":20,"f":3650,"g":5280,"v":-4},{"d":20,"f":5280,"g":7510,"v":-1},{"d":20,"f":7510,"g":20000,"v":-4},
      {"d":25,"f":200,"g":269,"v":-1},{"d":25,"f":269,"g":336,"v":-4},{"d":25,"f":336,"g":411,"v":-1},{"d":25,"f":411,"g":1980,"v":-4},{"d":25,"f":1980,"g":3720,"v":-1},{"d":25,"f":3720,"g":5480,"v":-4},{"d":25,"f":5480,"g":7940,"v":-1},{"d":25,"f":7940,"g":18900,"v":-4},{"d":25,"f":18900,"g":20000,"v":-6},
      {"d":30,"f":200,"g":264,"v":-1},{"d":30,"f":264,"g":342,"v":-4},{"d":30,"f":342,"g":404,"v":-1},{"d":30,"f":404,"g":2060,"v":-4},{"d":30,"f":2060,"g":3790,"v":-1},{"d":30,"f":3790,"g":5690,"v":-4},{"d":30,"f":5690,"g":7940,"v":-1},{"d":30,"f":7940,"g":17300,"v":-4},{"d":30,"f":17300,"g":20000,"v":-6},
      {"d":35,"f":200,"g":211,"v":-4},{"d":35,"f":211,"g":245,"v":-1},{"d":35,"f":245,"g":355,"v":-4},{"d":35,"f":355,"g":396,"v":-1},{"d":35,"f":396,"g":2130,"v":-4},{"d":35,"f":2130,"g":3860,"v":-1},{"d":35,"f":3860,"g":9910,"v":-4},{"d":35,"f":9910,"g":13800,"v":-6},{"d":35,"f":13800,"g":16300,"v":-4},{"d":35,"f":16300,"g":18200,"v":-6},{"d":35,"f":18200,"g":19300,"v":-9},{"d":35,"f":19300,"g":20000,"v":-11},
      {"d":40,"f":200,"g":355,"v":-4},{"d":40,"f":355,"g":396,"v":-1},{"d":40,"f":396,"g":2300,"v":-4},{"d":40,"f":2300,"g":3930,"v":-1},{"d":40,"f":3930,"g":9730,"v":-4},{"d":40,"f":9730,"g":13600,"v":-6},{"d":40,"f":13600,"g":15700,"v":-4},{"d":40,"f":15700,"g":16900,"v":-6},{"d":40,"f":16900,"g":18200,"v":-9},{"d":40,"f":18200,"g":19300,"v":-11},{"d":40,"f":19300,"g":20000,"v":-14},
      {"d":45,"f":200,"g":1140,"v":-4},{"d":45,"f":1140,"g":1420,"v":-6},{"d":45,"f":1420,"g":2480,"v":-4},{"d":45,"f":2480,"g":3930,"v":-1},{"d":45,"f":3930,"g":9550,"v":-4},{"d":45,"f":9550,"g":13800,"v":-6},{"d":45,"f":13800,"g":15700,"v":-4},{"d":45,"f":15700,"g":16600,"v":-6},{"d":45,"f":16600,"g":17600,"v":-9},{"d":45,"f":17600,"g":18600,"v":-11},{"d":45,"f":18600,"g":19700,"v":-14},{"d":45,"f":19700,"g":20000,"v":-16},
      {"d":50,"f":200,"g":1100,"v":-4},{"d":50,"f":1100,"g":1650,"v":-6},{"d":50,"f":1650,"g":2620,"v":-4},{"d":50,"f":2620,"g":3930,"v":-1},{"d":50,"f":3930,"g":5090,"v":-4},{"d":50,"f":5090,"g":6600,"v":-1},{"d":50,"f":6600,"g":9550,"v":-4},{"d":50,"f":9550,"g":16000,"v":-6},{"d":50,"f":16000,"g":16900,"v":-9},{"d":50,"f":16900,"g":17900,"v":-11},{"d":50,"f":17900,"g":18900,"v":-14},{"d":50,"f":18900,"g":20000,"v":-16},
      {"d":55,"f":200,"g":704,"v":-4},{"d":55,"f":704,"g":1680,"v":-6},{"d":55,"f":1680,"g":2660,"v":-4},{"d":55,"f":2660,"g":3930,"v":-1},{"d":55,"f":3930,"g":5090,"v":-4},{"d":55,"f":5090,"g":6600,"v":-1},{"d":55,"f":6600,"g":9550,"v":-4},{"d":55,"f":9550,"g":10900,"v":-6},{"d":55,"f":10900,"g":12400,"v":-9},{"d":55,"f":12400,"g":16000,"v":-6},{"d":55,"f":16000,"g":16900,"v":-9},{"d":55,"f":16900,"g":17600,"v":-11},{"d":55,"f":17600,"g":18900,"v":-14},{"d":55,"f":18900,"g":20000,"v":-16}
    ],
    "tr": [
      {"d":-60,"f":200,"g":232,"v":-1.5},{"d":-60,"f":232,"g":245,"v":-2.5},{"d":-60,"f":245,"g":259,"v":-3.5},{"d":-60,"f":259,"g":300,"v":-4.5},{"d":-60,"f":300,"g":318,"v":-3.5},{"d":-60,"f":318,"g":411,"v":-1.5},{"d":-60,"f":411,"g":435,"v":-3.5},{"d":-60,"f":435,"g":460,"v":-4.5},{"d":-60,"f":460,"g":523,"v":-6.5},{"d":-60,"f":523,"g":543,"v":-5.5},{"d":-60,"f":543,"g":691,"v":-4.5},{"d":-60,"f":691,"g":801,"v":-5.5},{"d":-60,"f":801,"g":1180,"v":-4.5},{"d":-60,"f":1180,"g":1250,"v":-5.5},{"d":-60,"f":1250,"g":1530,"v":-6.5},{"d":-60,"f":1530,"g":2390,"v":-5.5},{"d":-60,"f":2390,"g":2660,"v":-4.5},{"d":-60,"f":2660,"g":2870,"v":-3.5},{"d":-60,"f":2870,"g":2980,"v":-2.5},{"d":-60,"f":2980,"g":5480,"v":-1.5},{"d":-60,"f":5480,"g":6130,"v":-0.5},{"d":-60,"f":6130,"g":9040,"v":-1.5},{"d":-60,"f":9040,"g":9910,"v":-2.5},{"d":-60,"f":9910,"g":10500,"v":-3.5},{"d":-60,"f":10500,"g":11100,"v":-4.5},{"d":-60,"f":11100,"g":11700,"v":-5.5},{"d":-60,"f":11700,"g":15500,"v":-6.5},{"d":-60,"f":15500,"g":16300,"v":-7.5},{"d":-60,"f":16300,"g":20000,"v":-9.5},
      {"d":-55,"f":200,"g":232,"v":-1.5},{"d":-55,"f":232,"g":245,"v":-2.5},{"d":-55,"f":245,"g":259,"v":-3.5},{"d":-55,"f":259,"g":300,"v":-4.5},{"d":-55,"f":300,"g":318,"v":-3.5},{"d":-55,"f":318,"g":411,"v":-1.5},{"d":-55,"f":411,"g":435,"v":-3.5},{"d":-55,"f":435,"g":460,"v":-4.5},{"d":-55,"f":460,"g":543,"v":-5.5},{"d":-55,"f":543,"g":596,"v":-4.5},{"d":-55,"f":596,"g":666,"v":-3.5},{"d":-55,"f":666,"g":1160,"v":-4.5},{"d":-55,"f":1160,"g":2390,"v":-5.5},{"d":-55,"f":2390,"g":2570,"v":-4.5},{"d":-55,"f":2570,"g":2770,"v":-3.5},{"d":-55,"f":2770,"g":2980,"v":-2.5},{"d":-55,"f":2980,"g":9380,"v":-1.5},{"d":-55,"f":9380,"g":10100,"v":-2.5},{"d":-55,"f":10100,"g":10700,"v":-3.5},{"d":-55,"f":10700,"g":11300,"v":-4.5},{"d":-55,"f":11300,"g":13100,"v":-5.5},{"d":-55,"f":13100,"g":15700,"v":-6.5},{"d":-55,"f":15700,"g":16600,"v":-7.5},{"d":-55,"f":16600,"g":20000,"v":-9.5},
      {"d":-50,"f":200,"g":215,"v":-0.5},{"d":-50,"f":215,"g":232,"v":-1.5},{"d":-50,"f":232,"g":245,"v":-2.5},{"d":-50,"f":245,"g":259,"v":-3.5},{"d":-50,"f":259,"g":300,"v":-4.5},{"d":-50,"f":300,"g":318,"v":-3.5},{"d":-50,"f":318,"g":411,"v":-1.5},{"d":-50,"f":411,"g":435,"v":-3.5},{"d":-50,"f":435,"g":460,"v":-4.5},{"d":-50,"f":460,"g":543,"v":-5.5},{"d":-50,"f":543,"g":630,"v":-3.5},{"d":-50,"f":630,"g":831,"v":-4.5},{"d":-50,"f":831,"g":1160,"v":-3.5},{"d":-50,"f":1160,"g":1340,"v":-4.5},{"d":-50,"f":1340,"g":1880,"v":-5.5},{"d":-50,"f":1880,"g":2130,"v":-4.5},{"d":-50,"f":2130,"g":2570,"v":-3.5},{"d":-50,"f":2570,"g":2870,"v":-2.5},{"d":-50,"f":2870,"g":3150,"v":-1.5},{"d":-50,"f":3150,"g":3720,"v":-0.5},{"d":-50,"f":3720,"g":9730,"v":-1.5},{"d":-50,"f":9730,"g":10500,"v":-2.5},{"d":-50,"f":10500,"g":11100,"v":-3.5},{"d":-50,"f":11100,"g":11900,"v":-4.5},{"d":-50,"f":11900,"g":15200,"v":-5.5},{"d":-50,"f":15200,"g":16600,"v":-6.5},{"d":-50,"f":16600,"g":17600,"v":-7.5},{"d":-50,"f":17600,"g":20000,"v":-9.5},
      {"d":-45,"f":200,"g":215,"v":-0.5},{"d":-45,"f":215,"g":232,"v":-1.5},{"d":-45,"f":232,"g":245,"v":-2.5},{"d":-45,"f":245,"g":259,"v":-3.5},{"d":-45,"f":259,"g":300,"v":-4.5},{"d":-45,"f":300,"g":318,"v":-3.5},{"d":-45,"f":318,"g":411,"v":-1.5},{"d":-45,"f":411,"g":435,"v":-3.5},{"d":-45,"f":435,"g":460,"v":-4.5},{"d":-45,"f":460,"g":543,"v":-5.5},{"d":-45,"f":543,"g":704,"v":-3.5},{"d":-45,"f":704,"g":801,"v":-4.5},{"d":-45,"f":801,"g":1180,"v":-3.5},{"d":-45,"f":1180,"g":2060,"v":-4.5},{"d":-45,"f":2060,"g":2570,"v":-3.5},{"d":-45,"f":2570,"g":2870,"v":-2.5},{"d":-45,"f":2870,"g":3090,"v":-1.5},{"d":-45,"f":3090,"g":3720,"v":-0.5},{"d":-45,"f":3720,"g":4150,"v":-1.5},{"d":-45,"f":4150,"g":5190,"v":-2.5},{"d":-45,"f":5190,"g":10100,"v":-1.5},{"d":-45,"f":10100,"g":10900,"v":-2.5},{"d":-45,"f":10900,"g":11700,"v":-3.5},{"d":-45,"f":11700,"g":12600,"v":-4.5},{"d":-45,"f":12600,"g":16000,"v":-5.5},{"d":-45,"f":16000,"g":17600,"v":-6.5},{"d":-45,"f":17600,"g":18200,"v":-7.5},{"d":-45,"f":18200,"g":20000,"v":-9.5},
      {"d":-40,"f":200,"g":215,"v":-0.5},{"d":-40,"f":215,"g":232,"v":-1.5},{"d":-40,"f":232,"g":245,"v":-2.5},{"d":-40,"f":245,"g":259,"v":-3.5},{"d":-40,"f":259,"g":300,"v":-4.5},{"d":-40,"f":300,"g":318,"v":-3.5},{"d":-40,"f":318,"g":411,"v":-1.5},{"d":-40,"f":411,"g":435,"v":-3.5},{"d":-40,"f":435,"g":460,"v":-4.5},{"d":-40,"f":460,"g":543,"v":-5.5},{"d":-40,"f":543,"g":801,"v":-3.5},{"d":-40,"f":801,"g":1180,"v":-2.5},{"d":-40,"f":1180,"g":1470,"v":-3.5},{"d":-40,"f":1470,"g":1840,"v":-4.5},{"d":-40,"f":1840,"g":2520,"v":-3.5},{"d":-40,"f":2520,"g":2820,"v":-2.5},{"d":-40,"f":2820,"g":3090,"v":-1.5},{"d":-40,"f":3090,"g":3720,"v":-0.5},{"d":-40,"f":3720,"g":4000,"v":-1.5},{"d":-40,"f":4000,"g":5690,"v":-2.5},{"d":-40,"f":5690,"g":10900,"v":-1.5},{"d":-40,"f":10900,"g":11700,"v":-2.5},{"d":-40,"f":11700,"g":12600,"v":-3.5},{"d":-40,"f":12600,"g":13600,"v":-4.5},{"d":-40,"f":13600,"g":17300,"v":-5.5},{"d":-40,"f":17300,"g":18600,"v":-6.5},{"d":-40,"f":18600,"g":19300,"v":-7.5},{"d":-40,"f":19300,"g":19700,"v":-8.5},{"d":-40,"f":19700,"g":20000,"v":-9.5},
      {"d":-35,"f":200,"g":215,"v":-0.5},{"d":-35,"f":215,"g":232,"v":-1.5},{"d":-35,"f":232,"g":245,"v":-2.5},{"d":-35,"f":245,"g":259,"v":-3.5},{"d":-35,"f":259,"g":300,"v":-4.5},{"d":-35,"f":300,"g":318,"v":-3.5},{"d":-35,"f":318,"g":411,"v":-1.5},{"d":-35,"f":411,"g":435,"v":-3.5},{"d":-35,"f":435,"g":543,"v":-4.5},{"d":-35,"f":543,"g":563,"v":-3.5},{"d":-35,"f":563,"g":1270,"v":-2.5},{"d":-35,"f":1270,"g":2520,"v":-3.5},{"d":-35,"f":2520,"g":2820,"v":-2.5},{"d":-35,"f":2820,"g":3150,"v":-1.5},{"d":-35,"f":3150,"g":3650,"v":-0.5},{"d":-35,"f":3650,"g":3930,"v":-1.5},{"d":-35,"f":3930,"g":4310,"v":-2.5},{"d":-35,"f":4310,"g":4820,"v":-3.5},{"d":-35,"f":4820,"g":5690,"v":-2.5},{"d":-35,"f":5690,"g":7510,"v":-1.5},{"d":-35,"f":7510,"g":8240,"v":-0.5},{"d":-35,"f":8240,"g":12100,"v":-1.5},{"d":-35,"f":12100,"g":13600,"v":-2.5},{"d":-35,"f":13600,"g":14600,"v":-3.5},{"d":-35,"f":14600,"g":15700,"v":-4.5},{"d":-35,"f":15700,"g":18200,"v":-5.5},{"d":-35,"f":18200,"g":19300,"v":-6.5},{"d":-35,"f":19300,"g":20000,"v":-7.5},
      {"d":-30,"f":200,"g":215,"v":-0.5},{"d":-30,"f":215,"g":236,"v":-1.5},{"d":-30,"f":236,"g":250,"v":-2.5},{"d":-30,"f":250,"g":259,"v":-3.5},{"d":-30,"f":259,"g":300,"v":-4.5},{"d":-30,"f":300,"g":318,"v":-3.5},{"d":-30,"f":318,"g":355,"v":-1.5},{"d":-30,"f":355,"g":375,"v":-0.5},{"d":-30,"f":375,"g":411,"v":-1.5},{"d":-30,"f":411,"g":435,"v":-3.5},{"d":-30,"f":435,"g":553,"v":-4.5},{"d":-30,"f":553,"g":816,"v":-2.5},{"d":-30,"f":816,"g":1140,"v":-1.5},{"d":-30,"f":1140,"g":1370,"v":-2.5},{"d":-30,"f":1370,"g":2520,"v":-3.5},{"d":-30,"f":2520,"g":2770,"v":-2.5},{"d":-30,"f":2770,"g":3650,"v":-1.5},{"d":-30,"f":3650,"g":4310,"v":-2.5},{"d":-30,"f":4310,"g":4820,"v":-3.5},{"d":-30,"f":4820,"g":5800,"v":-2.5},{"d":-30,"f":5800,"g":6850,"v":-1.5},{"d":-30,"f":6850,"g":8710,"v":-0.5},{"d":-30,"f":8710,"g":13600,"v":-1.5},{"d":-30,"f":13600,"g":15500,"v":-2.5},{"d":-30,"f":15500,"g":16900,"v":-3.5},{"d":-30,"f":16900,"g":18200,"v":-4.5},{"d":-30,"f":18200,"g":19700,"v":-5.5},{"d":-30,"f":19700,"g":20000,"v":-6.5},
      {"d":-25,"f":200,"g":215,"v":-0.5},{"d":-25,"f":215,"g":236,"v":-1.5},{"d":-25,"f":236,"g":250,"v":-2.5},{"d":-25,"f":250,"g":259,"v":-3.5},{"d":-25,"f":259,"g":300,"v":-4.5},{"d":-25,"f":300,"g":318,"v":-3.5},{"d":-25,"f":318,"g":355,"v":-1.5},{"d":-25,"f":355,"g":375,"v":-0.5},{"d":-25,"f":375,"g":411,"v":-1.5},{"d":-25,"f":411,"g":435,"v":-3.5},{"d":-25,"f":435,"g":553,"v":-4.5},{"d":-25,"f":553,"g":772,"v":-2.5},{"d":-25,"f":772,"g":1270,"v":-1.5},{"d":-25,"f":1270,"g":1420,"v":-2.5},{"d":-25,"f":1420,"g":2520,"v":-3.5},{"d":-25,"f":2520,"g":2770,"v":-2.5},{"d":-25,"f":2770,"g":3720,"v":-1.5},{"d":-25,"f":3720,"g":4310,"v":-2.5},{"d":-25,"f":4310,"g":4730,"v":-3.5},{"d":-25,"f":4730,"g":5690,"v":-2.5},{"d":-25,"f":5690,"g":6480,"v":-1.5},{"d":-25,"f":6480,"g":9380,"v":-0.5},{"d":-25,"f":9380,"g":14900,"v":-1.5},{"d":-25,"f":14900,"g":17300,"v":-2.5},{"d":-25,"f":17300,"g":18900,"v":-3.5},{"d":-25,"f":18900,"g":19700,"v":-4.5},{"d":-25,"f":19700,"g":20000,"v":-5.5},
      {"d":-20,"f":200,"g":215,"v":-0.5},{"d":-20,"f":215,"g":236,"v":-1.5},{"d":-20,"f":236,"g":250,"v":-2.5},{"d":-20,"f":250,"g":259,"v":-3.5},{"d":-20,"f":259,"g":300,"v":-4.5},{"d":-20,"f":300,"g":318,"v":-3.5},{"d":-20,"f":318,"g":355,"v":-1.5},{"d":-20,"f":355,"g":375,"v":-0.5},{"d":-20,"f":375,"g":411,"v":-1.5},{"d":-20,"f":411,"g":435,"v":-3.5},{"d":-20,"f":435,"g":553,"v":-4.5},{"d":-20,"f":553,"g":758,"v":-2.5},{"d":-20,"f":758,"g":1300,"v":-1.5},{"d":-20,"f":1300,"g":1450,"v":-2.5},{"d":-20,"f":1450,"g":1530,"v":-3.5},{"d":-20,"f":1530,"g":1910,"v":-2.5},{"d":-20,"f":1910,"g":2570,"v":-3.5},{"d":-20,"f":2570,"g":3720,"v":-2.5},{"d":-20,"f":3720,"g":5800,"v":-1.5},{"d":-20,"f":5800,"g":12100,"v":-0.5},{"d":-20,"f":12100,"g":15200,"v":-1.5},{"d":-20,"f":15200,"g":18200,"v":-2.5},{"d":-20,"f":18200,"g":19700,"v":-3.5},{"d":-20,"f":19700,"g":20000,"v":-4.5},
      {"d":-15,"f":200,"g":215,"v":-0.5},{"d":-15,"f":215,"g":236,"v":-1.5},{"d":-15,"f":236,"g":250,"v":-2.5},{"d":-15,"f":250,"g":259,"v":-3.5},{"d":-15,"f":259,"g":300,"v":-4.5},{"d":-15,"f":300,"g":318,"v":-3.5},{"d":-15,"f":318,"g":355,"v":-1.5},{"d":-15,"f":355,"g":375,"v":-0.5},{"d":-15,"f":375,"g":411,"v":-1.5},{"d":-15,"f":411,"g":435,"v":-3.5},{"d":-15,"f":435,"g":553,"v":-4.5},{"d":-15,"f":553,"g":758,"v":-2.5},{"d":-15,"f":758,"g":1320,"v":-1.5},{"d":-15,"f":1320,"g":1950,"v":-2.5},{"d":-15,"f":1950,"g":2520,"v":-3.5},{"d":-15,"f":2520,"g":3720,"v":-2.5},{"d":-15,"f":3720,"g":7240,"v":-1.5},{"d":-15,"f":7240,"g":12100,"v":-0.5},{"d":-15,"f":12100,"g":15200,"v":-1.5},{"d":-15,"f":15200,"g":18600,"v":-2.5},{"d":-15,"f":18600,"g":20000,"v":-3.5},
      {"d":-10,"f":200,"g":215,"v":-0.5},{"d":-10,"f":215,"g":236,"v":-1.5},{"d":-10,"f":236,"g":250,"v":-2.5},{"d":-10,"f":250,"g":259,"v":-3.5},{"d":-10,"f":259,"g":300,"v":-4.5},{"d":-10,"f":300,"g":318,"v":-3.5},{"d":-10,"f":318,"g":355,"v":-1.5},{"d":-10,"f":355,"g":375,"v":-0.5},{"d":-10,"f":375,"g":411,"v":-1.5},{"d":-10,"f":411,"g":435,"v":-3.5},{"d":-10,"f":435,"g":553,"v":-4.5},{"d":-10,"f":553,"g":758,"v":-2.5},{"d":-10,"f":758,"g":1320,"v":-1.5},{"d":-10,"f":1320,"g":1950,"v":-2.5},{"d":-10,"f":1950,"g":2570,"v":-3.5},{"d":-10,"f":2570,"g":3720,"v":-2.5},{"d":-10,"f":3720,"g":7240,"v":-1.5},{"d":-10,"f":7240,"g":12400,"v":-0.5},{"d":-10,"f":12400,"g":15200,"v":-1.5},{"d":-10,"f":15200,"g":18900,"v":-2.5},{"d":-10,"f":18900,"g":20000,"v":-3.5},
      {"d":-5,"f":200,"g":215,"v":-0.5},{"d":-5,"f":215,"g":236,"v":-1.5},{"d":-5,"f":236,"g":250,"v":-2.5},{"d":-5,"f":250,"g":259,"v":-3.5},{"d":-5,"f":259,"g":300,"v":-4.5},{"d":-5,"f":300,"g":318,"v":-3.5},{"d":-5,"f":318,"g":355,"v":-1.5},{"d":-5,"f":355,"g":375,"v":-0.5},{"d":-5,"f":375,"g":411,"v":-1.5},{"d":-5,"f":411,"g":435,"v":-3.5},{"d":-5,"f":435,"g":553,"v":-4.5},{"d":-5,"f":553,"g":758,"v":-2.5},{"d":-5,"f":758,"g":1320,"v":-1.5},{"d":-5,"f":1320,"g":1950,"v":-2.5},{"d":-5,"f":1950,"g":2570,"v":-3.5},{"d":-5,"f":2570,"g":3720,"v":-2.5},{"d":-5,"f":3720,"g":4230,"v":-1.5},{"d":-5,"f":4230,"g":5000,"v":-0.5},{"d":-5,"f":5000,"g":7240,"v":-1.5},{"d":-5,"f":7240,"g":12400,"v":-0.5},{"d":-5,"f":12400,"g":15200,"v":-1.5},{"d":-5,"f":15200,"g":16600,"v":-2.5},{"d":-5,"f":16600,"g":17600,"v":-1.5},{"d":-5,"f":17600,"g":18900,"v":-2.5},{"d":-5,"f":18900,"g":20000,"v":-3.5},
      {"d":0,"f":200,"g":215,"v":-0.5},{"d":0,"f":215,"g":236,"v":-1.5},{"d":0,"f":236,"g":250,"v":-2.5},{"d":0,"f":250,"g":259,"v":-3.5},{"d":0,"f":259,"g":300,"v":-4.5},{"d":0,"f":300,"g":318,"v":-3.5},{"d":0,"f":318,"g":355,"v":-1.5},{"d":0,"f":355,"g":375,"v":-0.5},{"d":0,"f":375,"g":411,"v":-1.5},{"d":0,"f":411,"g":435,"v":-3.5},{"d":0,"f":435,"g":553,"v":-4.5},{"d":0,"f":553,"g":758,"v":-2.5},{"d":0,"f":758,"g":1320,"v":-1.5},{"d":0,"f":1320,"g":1950,"v":-2.5},{"d":0,"f":1950,"g":2570,"v":-3.5},{"d":0,"f":2570,"g":3720,"v":-2.5},{"d":0,"f":3720,"g":4230,"v":-1.5},{"d":0,"f":4230,"g":5000,"v":-0.5},{"d":0,"f":5000,"g":7240,"v":-1.5},{"d":0,"f":7240,"g":12400,"v":-0.5},{"d":0,"f":12400,"g":15200,"v":-1.5},{"d":0,"f":15200,"g":16600,"v":-2.5},{"d":0,"f":16600,"g":17600,"v":-1.5},{"d":0,"f":17600,"g":18900,"v":-2.5},{"d":0,"f":18900,"g":20000,"v":-3.5},
      {"d":5,"f":200,"g":215,"v":-0.5},{"d":5,"f":215,"g":236,"v":-1.5},{"d":5,"f":236,"g":250,"v":-2.5},{"d":5,"f":250,"g":259,"v":-3.5},{"d":5,"f":259,"g":300,"v":-4.5},{"d":5,"f":300,"g":318,"v":-3.5},{"d":5,"f":318,"g":355,"v":-1.5},{"d":5,"f":355,"g":375,"v":-0.5},{"d":5,"f":375,"g":411,"v":-1.5},{"d":5,"f":411,"g":435,"v":-3.5},{"d":5,"f":435,"g":553,"v":-4.5},{"d":5,"f":553,"g":758,"v":-2.5},{"d":5,"f":758,"g":1320,"v":-1.5},{"d":5,"f":1320,"g":1950,"v":-2.5},{"d":5,"f":1950,"g":2570,"v":-3.5},{"d":5,"f":2570,"g":3720,"v":-2.5},{"d":5,"f":3720,"g":7240,"v":-1.5},{"d":5,"f":7240,"g":12400,"v":-0.5},{"d":5,"f":12400,"g":15200,"v":-1.5},{"d":5,"f":15200,"g":18900,"v":-2.5},{"d":5,"f":18900,"g":20000,"v":-3.5},
      {"d":10,"f":200,"g":215,"v":-0.5},{"d":10,"f":215,"g":236,"v":-1.5},{"d":10,"f":236,"g":250,"v":-2.5},{"d":10,"f":250,"g":259,"v":-3.5},{"d":10,"f":259,"g":300,"v":-4.5},{"d":10,"f":300,"g":318,"v":-3.5},{"d":10,"f":318,"g":355,"v":-1.5},{"d":10,"f":355,"g":375,"v":-0.5},{"d":10,"f":375,"g":411,"v":-1.5},{"d":10,"f":411,"g":435,"v":-3.5},{"d":10,"f":435,"g":553,"v":-4.5},{"d":10,"f":553,"g":758,"v":-2.5},{"d":10,"f":758,"g":1320,"v":-1.5},{"d":10,"f":1320,"g":1950,"v":-2.5},{"d":10,"f":1950,"g":2520,"v":-3.5},{"d":10,"f":2520,"g":3720,"v":-2.5},{"d":10,"f":3720,"g":7240,"v":-1.5},{"d":10,"f":7240,"g":12100,"v":-0.5},{"d":10,"f":12100,"g":15200,"v":-1.5},{"d":10,"f":15200,"g":18600,"v":-2.5},{"d":10,"f":18600,"g":20000,"v":-3.5},
      {"d":15,"f":200,"g":215,"v":-0.5},{"d":15,"f":215,"g":236,"v":-1.5},{"d":15,"f":236,"g":250,"v":-2.5},{"d":15,"f":250,"g":259,"v":-3.5},{"d":15,"f":259,"g":300,"v":-4.5},{"d":15,"f":300,"g":318,"v":-3.5},{"d":15,"f":318,"g":355,"v":-1.5},{"d":15,"f":355,"g":375,"v":-0.5},{"d":15,"f":375,"g":411,"v":-1.5},{"d":15,"f":411,"g":435,"v":-3.5},{"d":15,"f":435,"g":553,"v":-4.5},{"d":15,"f":553,"g":758,"v":-2.5},{"d":15,"f":758,"g":1300,"v":-1.5},{"d":15,"f":1300,"g":1450,"v":-2.5},{"d":15,"f":1450,"g":1530,"v":-3.5},{"d":15,"f":1530,"g":1910,"v":-2.5},{"d":15,"f":1910,"g":2570,"v":-3.5},{"d":15,"f":2570,"g":3720,"v":-2.5},{"d":15,"f":3720,"g":5800,"v":-1.5},{"d":15,"f":5800,"g":12100,"v":-0.5},{"d":15,"f":12100,"g":15200,"v":-1.5},{"d":15,"f":15200,"g":18200,"v":-2.5},{"d":15,"f":18200,"g":19700,"v":-3.5},{"d":15,"f":19700,"g":20000,"v":-4.5},
      {"d":20,"f":200,"g":215,"v":-0.5},{"d":20,"f":215,"g":236,"v":-1.5},{"d":20,"f":236,"g":250,"v":-2.5},{"d":20,"f":250,"g":259,"v":-3.5},{"d":20,"f":259,"g":300,"v":-4.5},{"d":20,"f":300,"g":318,"v":-3.5},{"d":20,"f":318,"g":355,"v":-1.5},{"d":20,"f":355,"g":375,"v":-0.5},{"d":20,"f":375,"g":411,"v":-1.5},{"d":20,"f":411,"g":435,"v":-3.5},{"d":20,"f":435,"g":553,"v":-4.5},{"d":20,"f":553,"g":772,"v":-2.5},{"d":20,"f":772,"g":1270,"v":-1.5},{"d":20,"f":1270,"g":1420,"v":-2.5},{"d":20,"f":1420,"g":2520,"v":-3.5},{"d":20,"f":2520,"g":2770,"v":-2.5},{"d":20,"f":2770,"g":3720,"v":-1.5},{"d":20,"f":3720,"g":4310,"v":-2.5},{"d":20,"f":4310,"g":4730,"v":-3.5},{"d":20,"f":4730,"g":5690,"v":-2.5},{"d":20,"f":5690,"g":6480,"v":-1.5},{"d":20,"f":6480,"g":9380,"v":-0.5},{"d":20,"f":9380,"g":14900,"v":-1.5},{"d":20,"f":14900,"g":17300,"v":-2.5},{"d":20,"f":17300,"g":18900,"v":-3.5},{"d":20,"f":18900,"g":19700,"v":-4.5},{"d":20,"f":19700,"g":20000,"v":-5.5},
      {"d":25,"f":200,"g":215,"v":-0.5},{"d":25,"f":215,"g":236,"v":-1.5},{"d":25,"f":236,"g":250,"v":-2.5},{"d":25,"f":250,"g":259,"v":-3.5},{"d":25,"f":259,"g":300,"v":-4.5},{"d":25,"f":300,"g":318,"v":-3.5},{"d":25,"f":318,"g":355,"v":-1.5},{"d":25,"f":355,"g":375,"v":-0.5},{"d":25,"f":375,"g":411,"v":-1.5},{"d":25,"f":411,"g":435,"v":-3.5},{"d":25,"f":435,"g":553,"v":-4.5},{"d":25,"f":553,"g":816,"v":-2.5},{"d":25,"f":816,"g":1140,"v":-1.5},{"d":25,"f":1140,"g":1370,"v":-2.5},{"d":25,"f":1370,"g":2520,"v":-3.5},{"d":25,"f":2520,"g":2770,"v":-2.5},{"d":25,"f":2770,"g":3650,"v":-1.5},{"d":25,"f":3650,"g":4310,"v":-2.5},{"d":25,"f":4310,"g":4820,"v":-3.5},{"d":25,"f":4820,"g":5800,"v":-2.5},{"d":25,"f":5800,"g":6850,"v":-1.5},{"d":25,"f":6850,"g":8710,"v":-0.5},{"d":25,"f":8710,"g":13600,"v":-1.5},{"d":25,"f":13600,"g":15500,"v":-2.5},{"d":25,"f":15500,"g":16900,"v":-3.5},{"d":25,"f":16900,"g":18200,"v":-4.5},{"d":25,"f":18200,"g":19700,"v":-5.5},{"d":25,"f":19700,"g":20000,"v":-6.5},
      {"d":30,"f":200,"g":215,"v":-0.5},{"d":30,"f":215,"g":236,"v":-1.5},{"d":30,"f":236,"g":250,"v":-2.5},{"d":30,"f":250,"g":259,"v":-3.5},{"d":30,"f":259,"g":300,"v":-4.5},{"d":30,"f":300,"g":318,"v":-3.5},{"d":30,"f":318,"g":355,"v":-1.5},{"d":30,"f":355,"g":375,"v":-0.5},{"d":30,"f":375,"g":411,"v":-1.5},{"d":30,"f":411,"g":435,"v":-3.5},{"d":30,"f":435,"g":553,"v":-4.5},{"d":30,"f":553,"g":1270,"v":-2.5},{"d":30,"f":1270,"g":2520,"v":-3.5},{"d":30,"f":2520,"g":2820,"v":-2.5},{"d":30,"f":2820,"g":3930,"v":-1.5},{"d":30,"f":3930,"g":4310,"v":-2.5},{"d":30,"f":4310,"g":4820,"v":-3.5},{"d":30,"f":4820,"g":5690,"v":-2.5},{"d":30,"f":5690,"g":7510,"v":-1.5},{"d":30,"f":7510,"g":8240,"v":-0.5},{"d":30,"f":8240,"g":12100,"v":-1.5},{"d":30,"f":12100,"g":13600,"v":-2.5},{"d":30,"f":13600,"g":14600,"v":-3.5},{"d":30,"f":14600,"g":15700,"v":-4.5},{"d":30,"f":15700,"g":18200,"v":-5.5},{"d":30,"f":18200,"g":19300,"v":-6.5},{"d":30,"f":19300,"g":20000,"v":-7.5},
      {"d":35,"f":200,"g":215,"v":-0.5},{"d":35,"f":215,"g":232,"v":-1.5},{"d":35,"f":232,"g":245,"v":-2.5},{"d":35,"f":245,"g":259,"v":-3.5},{"d":35,"f":259,"g":300,"v":-4.5},{"d":35,"f":300,"g":318,"v":-3.5},{"d":35,"f":318,"g":411,"v":-1.5},{"d":35,"f":411,"g":435,"v":-3.5},{"d":35,"f":435,"g":460,"v":-4.5},{"d":35,"f":460,"g":514,"v":-5.5},{"d":35,"f":514,"g":553,"v":-4.5},{"d":35,"f":553,"g":801,"v":-3.5},{"d":35,"f":801,"g":1180,"v":-2.5},{"d":35,"f":1180,"g":1470,"v":-3.5},{"d":35,"f":1470,"g":2060,"v":-4.5},{"d":35,"f":2060,"g":2520,"v":-3.5},{"d":35,"f":2520,"g":2820,"v":-2.5},{"d":35,"f":2820,"g":3090,"v":-1.5},{"d":35,"f":3090,"g":3720,"v":-0.5},{"d":35,"f":3720,"g":4000,"v":-1.5},{"d":35,"f":4000,"g":4310,"v":-2.5},{"d":35,"f":4310,"g":4820,"v":-3.5},{"d":35,"f":4820,"g":5690,"v":-2.5},{"d":35,"f":5690,"g":10900,"v":-1.5},{"d":35,"f":10900,"g":11700,"v":-2.5},{"d":35,"f":11700,"g":12600,"v":-3.5},{"d":35,"f":12600,"g":13600,"v":-4.5},{"d":35,"f":13600,"g":17300,"v":-5.5},{"d":35,"f":17300,"g":18600,"v":-6.5},{"d":35,"f":18600,"g":19300,"v":-7.5},{"d":35,"f":19300,"g":19700,"v":-8.5},{"d":35,"f":19700,"g":20000,"v":-9.5},
      {"d":40,"f":200,"g":215,"v":-0.5},{"d":40,"f":215,"g":232,"v":-1.5},{"d":40,"f":232,"g":245,"v":-2.5},{"d":40,"f":245,"g":259,"v":-3.5},{"d":40,"f":259,"g":300,"v":-4.5},{"d":40,"f":300,"g":318,"v":-3.5},{"d":40,"f":318,"g":411,"v":-1.5},{"d":40,"f":411,"g":435,"v":-3.5},{"d":40,"f":435,"g":460,"v":-4.5},{"d":40,"f":460,"g":514,"v":-5.5},{"d":40,"f":514,"g":553,"v":-4.5},{"d":40,"f":553,"g":801,"v":-3.5},{"d":40,"f":801,"g":1180,"v":-2.5},{"d":40,"f":1180,"g":1250,"v":-3.5},{"d":40,"f":1250,"g":2130,"v":-4.5},{"d":40,"f":2130,"g":2520,"v":-3.5},{"d":40,"f":2520,"g":2870,"v":-2.5},{"d":40,"f":2870,"g":3090,"v":-1.5},{"d":40,"f":3090,"g":3720,"v":-0.5},{"d":40,"f":3720,"g":10100,"v":-1.5},{"d":40,"f":10100,"g":10900,"v":-2.5},{"d":40,"f":10900,"g":11700,"v":-3.5},{"d":40,"f":11700,"g":12600,"v":-4.5},{"d":40,"f":12600,"g":16000,"v":-5.5},{"d":40,"f":16000,"g":17600,"v":-6.5},{"d":40,"f":17600,"g":18200,"v":-7.5},{"d":40,"f":18200,"g":20000,"v":-9.5},
      {"d":45,"f":200,"g":232,"v":-1.5},{"d":45,"f":232,"g":245,"v":-2.5},{"d":45,"f":245,"g":259,"v":-3.5},{"d":45,"f":259,"g":300,"v":-4.5},{"d":45,"f":300,"g":318,"v":-3.5},{"d":45,"f":318,"g":411,"v":-1.5},{"d":45,"f":411,"g":435,"v":-3.5},{"d":45,"f":435,"g":460,"v":-4.5},{"d":45,"f":460,"g":514,"v":-5.5},{"d":45,"f":514,"g":553,"v":-4.5},{"d":45,"f":553,"g":630,"v":-3.5},{"d":45,"f":630,"g":1180,"v":-4.5},{"d":45,"f":1180,"g":1880,"v":-5.5},{"d":45,"f":1880,"g":2130,"v":-4.5},{"d":45,"f":2130,"g":2570,"v":-3.5},{"d":45,"f":2570,"g":2870,"v":-2.5},{"d":45,"f":2870,"g":3150,"v":-1.5},{"d":45,"f":3150,"g":3720,"v":-0.5},{"d":45,"f":3720,"g":9730,"v":-1.5},{"d":45,"f":9730,"g":10500,"v":-2.5},{"d":45,"f":10500,"g":11100,"v":-3.5},{"d":45,"f":11100,"g":11900,"v":-4.5},{"d":45,"f":11900,"g":15200,"v":-5.5},{"d":45,"f":15200,"g":16600,"v":-6.5},{"d":45,"f":16600,"g":17600,"v":-7.5},{"d":45,"f":17600,"g":20000,"v":-9.5},
      {"d":50,"f":200,"g":232,"v":-1.5},{"d":50,"f":232,"g":245,"v":-2.5},{"d":50,"f":245,"g":259,"v":-3.5},{"d":50,"f":259,"g":300,"v":-4.5},{"d":50,"f":300,"g":318,"v":-3.5},{"d":50,"f":318,"g":411,"v":-1.5},{"d":50,"f":411,"g":435,"v":-3.5},{"d":50,"f":435,"g":460,"v":-4.5},{"d":50,"f":460,"g":514,"v":-5.5},{"d":50,"f":514,"g":553,"v":-4.5},{"d":50,"f":553,"g":630,"v":-3.5},{"d":50,"f":630,"g":691,"v":-4.5},{"d":50,"f":691,"g":758,"v":-5.5},{"d":50,"f":758,"g":1160,"v":-4.5},{"d":50,"f":1160,"g":2390,"v":-5.5},{"d":50,"f":2390,"g":2570,"v":-4.5},{"d":50,"f":2570,"g":2770,"v":-3.5},{"d":50,"f":2770,"g":2870,"v":-2.5},{"d":50,"f":2870,"g":3090,"v":-1.5},{"d":50,"f":3090,"g":3650,"v":-0.5},{"d":50,"f":3650,"g":9380,"v":-1.5},{"d":50,"f":9380,"g":10100,"v":-2.5},{"d":50,"f":10100,"g":10700,"v":-3.5},{"d":50,"f":10700,"g":11300,"v":-4.5},{"d":50,"f":11300,"g":13100,"v":-5.5},{"d":50,"f":13100,"g":15700,"v":-6.5},{"d":50,"f":15700,"g":16600,"v":-7.5},{"d":50,"f":16600,"g":20000,"v":-9.5},
      {"d":55,"f":200,"g":232,"v":-1.5},{"d":55,"f":232,"g":245,"v":-2.5},{"d":55,"f":245,"g":259,"v":-3.5},{"d":55,"f":259,"g":300,"v":-4.5},{"d":55,"f":300,"g":318,"v":-3.5},{"d":55,"f":318,"g":411,"v":-1.5},{"d":55,"f":411,"g":435,"v":-3.5},{"d":55,"f":435,"g":460,"v":-4.5},{"d":55,"f":460,"g":514,"v":-6.5},{"d":55,"f":514,"g":543,"v":-5.5},{"d":55,"f":543,"g":691,"v":-4.5},{"d":55,"f":691,"g":758,"v":-5.5},{"d":55,"f":758,"g":1180,"v":-4.5},{"d":55,"f":1180,"g":1300,"v":-5.5},{"d":55,"f":1300,"g":1470,"v":-6.5},{"d":55,"f":1470,"g":1670,"v":-5.5},{"d":55,"f":1670,"g":1780,"v":-6.5},{"d":55,"f":1780,"g":2390,"v":-5.5},{"d":55,"f":2390,"g":2660,"v":-4.5},{"d":55,"f":2660,"g":2870,"v":-3.5},{"d":55,"f":2870,"g":2980,"v":-2.5},{"d":55,"f":2980,"g":5480,"v":-1.5},{"d":55,"f":5480,"g":6130,"v":-0.5},{"d":55,"f":6130,"g":9040,"v":-1.5},{"d":55,"f":9040,"g":9910,"v":-2.5},{"d":55,"f":9910,"g":10500,"v":-3.5},{"d":55,"f":10500,"g":11100,"v":-4.5},{"d":55,"f":11100,"g":11700,"v":-5.5},{"d":55,"f":11700,"g":15500,"v":-6.5},{"d":55,"f":15500,"g":16300,"v":-7.5},{"d":55,"f":16300,"g":20000,"v":-9.5}
    ],
    "br": [
      {"d":-60,"f":200,"g":264,"v":-2.5},{"d":-60,"f":264,"g":361,"v":-3.5},{"d":-60,"f":361,"g":404,"v":-2.5},{"d":-60,"f":404,"g":435,"v":-3.5},{"d":-60,"f":435,"g":691,"v":-4.5},{"d":-60,"f":691,"g":1140,"v":-5.5},{"d":-60,"f":1140,"g":1400,"v":-6.5},{"d":-60,"f":1400,"g":1710,"v":-5.5},{"d":-60,"f":1710,"g":2480,"v":-4.5},{"d":-60,"f":2480,"g":2620,"v":-3.5},{"d":-60,"f":2620,"g":2770,"v":-2.5},{"d":-60,"f":2770,"g":3650,"v":-1.5},{"d":-60,"f":3650,"g":4150,"v":-2.5},{"d":-60,"f":4150,"g":4820,"v":-3.5},{"d":-60,"f":4820,"g":5480,"v":-2.5},{"d":-60,"f":5480,"g":6240,"v":-1.5},{"d":-60,"f":6240,"g":7100,"v":-2.5},{"d":-60,"f":7100,"g":9040,"v":-3.5},{"d":-60,"f":9040,"g":9730,"v":-4.5},{"d":-60,"f":9730,"g":10500,"v":-5.5},{"d":-60,"f":10500,"g":11900,"v":-7.5},{"d":-60,"f":11900,"g":14900,"v":-6.5},{"d":-60,"f":14900,"g":16000,"v":-7.5},{"d":-60,"f":16000,"g":20000,"v":-9.5},
      {"d":-55,"f":200,"g":264,"v":-2.5},{"d":-55,"f":264,"g":355,"v":-3.5},{"d":-55,"f":355,"g":404,"v":-2.5},{"d":-55,"f":404,"g":435,"v":-3.5},{"d":-55,"f":435,"g":704,"v":-4.5},{"d":-55,"f":704,"g":1710,"v":-5.5},{"d":-55,"f":1710,"g":2430,"v":-4.5},{"d":-55,"f":2430,"g":2570,"v":-3.5},{"d":-55,"f":2570,"g":2770,"v":-2.5},{"d":-55,"f":2770,"g":2920,"v":-1.5},{"d":-55,"f":2920,"g":3450,"v":-0.5},{"d":-55,"f":3450,"g":3650,"v":-1.5},{"d":-55,"f":3650,"g":4150,"v":-2.5},{"d":-55,"f":4150,"g":4820,"v":-3.5},{"d":-55,"f":4820,"g":5480,"v":-2.5},{"d":-55,"f":5480,"g":6130,"v":-1.5},{"d":-55,"f":6130,"g":7240,"v":-2.5},{"d":-55,"f":7240,"g":9200,"v":-3.5},{"d":-55,"f":9200,"g":9910,"v":-4.5},{"d":-55,"f":9910,"g":10900,"v":-5.5},{"d":-55,"f":10900,"g":11700,"v":-7.5},{"d":-55,"f":11700,"g":14600,"v":-5.5},{"d":-55,"f":14600,"g":16300,"v":-6.5},{"d":-55,"f":16300,"g":20000,"v":-9.5},
      {"d":-50,"f":200,"g":264,"v":-2.5},{"d":-50,"f":264,"g":355,"v":-3.5},{"d":-50,"f":355,"g":404,"v":-2.5},{"d":-50,"f":404,"g":443,"v":-3.5},{"d":-50,"f":443,"g":1140,"v":-4.5},{"d":-50,"f":1140,"g":1710,"v":-5.5},{"d":-50,"f":1710,"g":2390,"v":-4.5},{"d":-50,"f":2390,"g":2520,"v":-3.5},{"d":-50,"f":2520,"g":2720,"v":-2.5},{"d":-50,"f":2720,"g":2870,"v":-1.5},{"d":-50,"f":2870,"g":3450,"v":-0.5},{"d":-50,"f":3450,"g":3650,"v":-1.5},{"d":-50,"f":3650,"g":4230,"v":-2.5},{"d":-50,"f":4230,"g":4820,"v":-3.5},{"d":-50,"f":4820,"g":7240,"v":-2.5},{"d":-50,"f":7240,"g":9040,"v":-3.5},{"d":-50,"f":9040,"g":9910,"v":-4.5},{"d":-50,"f":9910,"g":11500,"v":-5.5},{"d":-50,"f":11500,"g":12600,"v":-6.5},{"d":-50,"f":12600,"g":15200,"v":-5.5},{"d":-50,"f":15200,"g":16600,"v":-6.5},{"d":-50,"f":16600,"g":17300,"v":-8.5},{"d":-50,"f":17300,"g":20000,"v":-9.5},
      {"d":-45,"f":200,"g":264,"v":-2.5},{"d":-45,"f":264,"g":348,"v":-3.5},{"d":-45,"f":348,"g":404,"v":-2.5},{"d":-45,"f":404,"g":486,"v":-3.5},{"d":-45,"f":486,"g":1140,"v":-4.5},{"d":-45,"f":1140,"g":1650,"v":-5.5},{"d":-45,"f":1650,"g":1980,"v":-4.5},{"d":-45,"f":1980,"g":2480,"v":-3.5},{"d":-45,"f":2480,"g":2660,"v":-2.5},{"d":-45,"f":2660,"g":2870,"v":-1.5},{"d":-45,"f":2870,"g":3450,"v":-0.5},{"d":-45,"f":3450,"g":3720,"v":-1.5},{"d":-45,"f":3720,"g":4230,"v":-2.5},{"d":-45,"f":4230,"g":4820,"v":-3.5},{"d":-45,"f":4820,"g":7240,"v":-2.5},{"d":-45,"f":7240,"g":9040,"v":-3.5},{"d":-45,"f":9040,"g":10100,"v":-4.5},{"d":-45,"f":10100,"g":11700,"v":-5.5},{"d":-45,"f":11700,"g":12600,"v":-6.5},{"d":-45,"f":12600,"g":15700,"v":-5.5},{"d":-45,"f":15700,"g":17300,"v":-6.5},{"d":-45,"f":17300,"g":17900,"v":-7.5},{"d":-45,"f":17900,"g":20000,"v":-9.5},
      {"d":-40,"f":200,"g":269,"v":-2.5},{"d":-40,"f":269,"g":300,"v":-3.5},{"d":-40,"f":300,"g":404,"v":-2.5},{"d":-40,"f":404,"g":691,"v":-3.5},{"d":-40,"f":691,"g":1710,"v":-4.5},{"d":-40,"f":1710,"g":2480,"v":-3.5},{"d":-40,"f":2480,"g":2660,"v":-2.5},{"d":-40,"f":2660,"g":2820,"v":-1.5},{"d":-40,"f":2820,"g":3450,"v":-0.5},{"d":-40,"f":3450,"g":3720,"v":-1.5},{"d":-40,"f":3720,"g":4150,"v":-2.5},{"d":-40,"f":4150,"g":5090,"v":-4.5},{"d":-40,"f":5090,"g":7510,"v":-2.5},{"d":-40,"f":7510,"g":9040,"v":-3.5},{"d":-40,"f":9040,"g":10300,"v":-4.5},{"d":-40,"f":10300,"g":12600,"v":-5.5},{"d":-40,"f":12600,"g":13100,"v":-6.5},{"d":-40,"f":13100,"g":16900,"v":-5.5},{"d":-40,"f":16900,"g":18200,"v":-6.5},{"d":-40,"f":18200,"g":18900,"v":-7.5},{"d":-40,"f":18900,"g":20000,"v":-9.5},
      {"d":-35,"f":200,"g":411,"v":-2.5},{"d":-35,"f":411,"g":1140,"v":-3.5},{"d":-35,"f":1140,"g":1710,"v":-4.5},{"d":-35,"f":1710,"g":2480,"v":-3.5},{"d":-35,"f":2480,"g":2660,"v":-2.5},{"d":-35,"f":2660,"g":2820,"v":-1.5},{"d":-35,"f":2820,"g":3450,"v":-0.5},{"d":-35,"f":3450,"g":3720,"v":-1.5},{"d":-35,"f":3720,"g":4150,"v":-2.5},{"d":-35,"f":4150,"g":5090,"v":-4.5},{"d":-35,"f":5090,"g":7240,"v":-2.5},{"d":-35,"f":7240,"g":9200,"v":-3.5},{"d":-35,"f":9200,"g":10500,"v":-4.5},{"d":-35,"f":10500,"g":16600,"v":-5.5},{"d":-35,"f":16600,"g":18600,"v":-6.5},{"d":-35,"f":18600,"g":19700,"v":-7.5},{"d":-35,"f":19700,"g":20000,"v":-9.5},
      {"d":-30,"f":200,"g":758,"v":-2.5},{"d":-30,"f":758,"g":2480,"v":-3.5},{"d":-30,"f":2480,"g":2660,"v":-2.5},{"d":-30,"f":2660,"g":2820,"v":-1.5},{"d":-30,"f":2820,"g":3450,"v":-0.5},{"d":-30,"f":3450,"g":3720,"v":-1.5},{"d":-30,"f":3720,"g":4150,"v":-2.5},{"d":-30,"f":4150,"g":5000,"v":-4.5},{"d":-30,"f":5000,"g":5800,"v":-2.5},{"d":-30,"f":5800,"g":7240,"v":-1.5},{"d":-30,"f":7240,"g":7650,"v":-2.5},{"d":-30,"f":7650,"g":9380,"v":-3.5},{"d":-30,"f":9380,"g":10900,"v":-4.5},{"d":-30,"f":10900,"g":17900,"v":-5.5},{"d":-30,"f":17900,"g":19300,"v":-6.5},{"d":-30,"f":19300,"g":20000,"v":-7.5},
      {"d":-25,"f":200,"g":1140,"v":-2.5},{"d":-25,"f":1140,"g":2480,"v":-3.5},{"d":-25,"f":2480,"g":2660,"v":-2.5},{"d":-25,"f":2660,"g":2920,"v":-1.5},{"d":-25,"f":2920,"g":3330,"v":-0.5},{"d":-25,"f":3330,"g":3720,"v":-1.5},{"d":-25,"f":3720,"g":4080,"v":-2.5},{"d":-25,"f":4080,"g":4230,"v":-3.5},{"d":-25,"f":4230,"g":5000,"v":-4.5},{"d":-25,"f":5000,"g":5380,"v":-3.5},{"d":-25,"f":5380,"g":6240,"v":-2.5},{"d":-25,"f":6240,"g":7510,"v":-1.5},{"d":-25,"f":7510,"g":8710,"v":-2.5},{"d":-25,"f":8710,"g":9910,"v":-3.5},{"d":-25,"f":9910,"g":12400,"v":-4.5},{"d":-25,"f":12400,"g":18900,"v":-5.5},{"d":-25,"f":18900,"g":20000,"v":-6.5},
      {"d":-20,"f":200,"g":2520,"v":-2.5},{"d":-20,"f":2520,"g":3580,"v":-1.5},{"d":-20,"f":3580,"g":4080,"v":-2.5},{"d":-20,"f":4080,"g":4310,"v":-3.5},{"d":-20,"f":4310,"g":5000,"v":-4.5},{"d":-20,"f":5000,"g":5480,"v":-3.5},{"d":-20,"f":5480,"g":5800,"v":-2.5},{"d":-20,"f":5800,"g":7100,"v":-1.5},{"d":-20,"f":7100,"g":9380,"v":-2.5},{"d":-20,"f":9380,"g":11300,"v":-3.5},{"d":-20,"f":11300,"g":17600,"v":-4.5},{"d":-20,"f":17600,"g":20000,"v":-5.5},
      {"d":-15,"f":200,"g":2570,"v":-2.5},{"d":-15,"f":2570,"g":3580,"v":-1.5},{"d":-15,"f":3580,"g":4000,"v":-2.5},{"d":-15,"f":4000,"g":4820,"v":-3.5},{"d":-15,"f":4820,"g":5690,"v":-2.5},{"d":-15,"f":5690,"g":6600,"v":-1.5},{"d":-15,"f":6600,"g":9550,"v":-2.5},{"d":-15,"f":9550,"g":10900,"v":-3.5},{"d":-15,"f":10900,"g":12800,"v":-2.5},{"d":-15,"f":12800,"g":14100,"v":-1.5},{"d":-15,"f":14100,"g":16300,"v":-2.5},{"d":-15,"f":16300,"g":18900,"v":-3.5},{"d":-15,"f":18900,"g":20000,"v":-4.5},
      {"d":-10,"f":200,"g":12800,"v":-2.5},{"d":-10,"f":12800,"g":14100,"v":-1.5},{"d":-10,"f":14100,"g":20000,"v":-2.5},
      {"d":-5,"f":200,"g":20000,"v":-2.5},
      {"d":0,"f":200,"g":20000,"v":-2.5},
      {"d":5,"f":200,"g":20000,"v":-2.5},
      {"d":10,"f":200,"g":2520,"v":-2.5},{"d":10,"f":2520,"g":3450,"v":-1.5},{"d":10,"f":3450,"g":12800,"v":-2.5},{"d":10,"f":12800,"g":14100,"v":-1.5},{"d":10,"f":14100,"g":20000,"v":-2.5},
      {"d":15,"f":200,"g":2480,"v":-2.5},{"d":15,"f":2480,"g":3650,"v":-1.5},{"d":15,"f":3650,"g":4150,"v":-2.5},{"d":15,"f":4150,"g":4910,"v":-3.5},{"d":15,"f":4910,"g":5690,"v":-2.5},{"d":15,"f":5690,"g":6600,"v":-1.5},{"d":15,"f":6600,"g":10100,"v":-2.5},{"d":15,"f":10100,"g":11300,"v":-3.5},{"d":15,"f":11300,"g":15200,"v":-2.5},{"d":15,"f":15200,"g":18200,"v":-3.5},{"d":15,"f":18200,"g":20000,"v":-4.5},
      {"d":20,"f":200,"g":2480,"v":-2.5},{"d":20,"f":2480,"g":3720,"v":-1.5},{"d":20,"f":3720,"g":4150,"v":-2.5},{"d":20,"f":4150,"g":5090,"v":-4.5},{"d":20,"f":5090,"g":5800,"v":-2.5},{"d":20,"f":5800,"g":7510,"v":-1.5},{"d":20,"f":7510,"g":9380,"v":-2.5},{"d":20,"f":9380,"g":10900,"v":-3.5},{"d":20,"f":10900,"g":15200,"v":-4.5},{"d":20,"f":15200,"g":18900,"v":-5.5},{"d":20,"f":18900,"g":20000,"v":-6.5},
      {"d":25,"f":200,"g":563,"v":-2.5},{"d":25,"f":563,"g":2480,"v":-3.5},{"d":25,"f":2480,"g":2620,"v":-2.5},{"d":25,"f":2620,"g":2770,"v":-1.5},{"d":25,"f":2770,"g":3520,"v":-0.5},{"d":25,"f":3520,"g":3720,"v":-1.5},{"d":25,"f":3720,"g":4150,"v":-2.5},{"d":25,"f":4150,"g":5090,"v":-4.5},{"d":25,"f":5090,"g":5380,"v":-3.5},{"d":25,"f":5380,"g":8090,"v":-2.5},{"d":25,"f":8090,"g":9730,"v":-3.5},{"d":25,"f":9730,"g":11700,"v":-4.5},{"d":25,"f":11700,"g":17600,"v":-5.5},{"d":25,"f":17600,"g":18900,"v":-6.5},{"d":25,"f":18900,"g":20000,"v":-7.5},
      {"d":30,"f":200,"g":435,"v":-2.5},{"d":30,"f":435,"g":1140,"v":-3.5},{"d":30,"f":1140,"g":1470,"v":-4.5},{"d":30,"f":1470,"g":2480,"v":-3.5},{"d":30,"f":2480,"g":2620,"v":-2.5},{"d":30,"f":2620,"g":2770,"v":-1.5},{"d":30,"f":2770,"g":3580,"v":-0.5},{"d":30,"f":3580,"g":3720,"v":-1.5},{"d":30,"f":3720,"g":4150,"v":-2.5},{"d":30,"f":4150,"g":5000,"v":-4.5},{"d":30,"f":5000,"g":7790,"v":-2.5},{"d":30,"f":7790,"g":9380,"v":-3.5},{"d":30,"f":9380,"g":10900,"v":-4.5},{"d":30,"f":10900,"g":18200,"v":-5.5},{"d":30,"f":18200,"g":19700,"v":-6.5},{"d":30,"f":19700,"g":20000,"v":-7.5},
      {"d":35,"f":200,"g":269,"v":-2.5},{"d":35,"f":269,"g":295,"v":-3.5},{"d":35,"f":295,"g":411,"v":-2.5},{"d":35,"f":411,"g":443,"v":-3.5},{"d":35,"f":443,"g":563,"v":-4.5},{"d":35,"f":563,"g":758,"v":-3.5},{"d":35,"f":758,"g":1980,"v":-4.5},{"d":35,"f":1980,"g":2480,"v":-3.5},{"d":35,"f":2480,"g":2570,"v":-2.5},{"d":35,"f":2570,"g":2770,"v":-1.5},{"d":35,"f":2770,"g":3580,"v":-0.5},{"d":35,"f":3580,"g":3720,"v":-1.5},{"d":35,"f":3720,"g":4820,"v":-2.5},{"d":35,"f":4820,"g":5590,"v":-3.5},{"d":35,"f":5590,"g":7510,"v":-2.5},{"d":35,"f":7510,"g":9380,"v":-3.5},{"d":35,"f":9380,"g":10500,"v":-4.5},{"d":35,"f":10500,"g":11700,"v":-5.5},{"d":35,"f":11700,"g":12600,"v":-6.5},{"d":35,"f":12600,"g":17600,"v":-5.5},{"d":35,"f":17600,"g":18900,"v":-6.5},{"d":35,"f":18900,"g":19700,"v":-8.5},{"d":35,"f":19700,"g":20000,"v":-9.5},
      {"d":40,"f":200,"g":269,"v":-2.5},{"d":40,"f":269,"g":355,"v":-3.5},{"d":40,"f":355,"g":404,"v":-2.5},{"d":40,"f":404,"g":443,"v":-3.5},{"d":40,"f":443,"g":1140,"v":-4.5},{"d":40,"f":1140,"g":1710,"v":-5.5},{"d":40,"f":1710,"g":2480,"v":-4.5},{"d":40,"f":2480,"g":2570,"v":-3.5},{"d":40,"f":2570,"g":2720,"v":-2.5},{"d":40,"f":2720,"g":2870,"v":-1.5},{"d":40,"f":2870,"g":3520,"v":-0.5},{"d":40,"f":3520,"g":3720,"v":-1.5},{"d":40,"f":3720,"g":7240,"v":-2.5},{"d":40,"f":7240,"g":9040,"v":-3.5},{"d":40,"f":9040,"g":9910,"v":-4.5},{"d":40,"f":9910,"g":10900,"v":-5.5},{"d":40,"f":10900,"g":11900,"v":-7.5},{"d":40,"f":11900,"g":15700,"v":-5.5},{"d":40,"f":15700,"g":17600,"v":-6.5},{"d":40,"f":17600,"g":20000,"v":-9.5},
      {"d":45,"f":200,"g":264,"v":-2.5},{"d":45,"f":264,"g":355,"v":-3.5},{"d":45,"f":355,"g":404,"v":-2.5},{"d":45,"f":404,"g":443,"v":-3.5},{"d":45,"f":443,"g":704,"v":-4.5},{"d":45,"f":704,"g":1710,"v":-5.5},{"d":45,"f":1710,"g":2480,"v":-4.5},{"d":45,"f":2480,"g":2570,"v":-3.5},{"d":45,"f":2570,"g":2720,"v":-2.5},{"d":45,"f":2720,"g":2870,"v":-1.5},{"d":45,"f":2870,"g":3450,"v":-0.5},{"d":45,"f":3450,"g":3720,"v":-1.5},{"d":45,"f":3720,"g":4820,"v":-2.5},{"d":45,"f":4820,"g":5380,"v":-3.5},{"d":45,"f":5380,"g":5590,"v":-2.5},{"d":45,"f":5590,"g":6240,"v":-1.5},{"d":45,"f":6240,"g":7240,"v":-2.5},{"d":45,"f":7240,"g":9040,"v":-3.5},{"d":45,"f":9040,"g":9910,"v":-4.5},{"d":45,"f":9910,"g":10900,"v":-5.5},{"d":45,"f":10900,"g":11900,"v":-7.5},{"d":45,"f":11900,"g":14900,"v":-5.5},{"d":45,"f":14900,"g":16300,"v":-6.5},{"d":45,"f":16300,"g":20000,"v":-9.5},
      {"d":50,"f":200,"g":264,"v":-2.5},{"d":50,"f":264,"g":355,"v":-3.5},{"d":50,"f":355,"g":404,"v":-2.5},{"d":50,"f":404,"g":435,"v":-3.5},{"d":50,"f":435,"g":678,"v":-4.5},{"d":50,"f":678,"g":1140,"v":-5.5},{"d":50,"f":1140,"g":1270,"v":-6.5},{"d":50,"f":1270,"g":1710,"v":-5.5},{"d":50,"f":1710,"g":2480,"v":-4.5},{"d":50,"f":2480,"g":2620,"v":-3.5},{"d":50,"f":2620,"g":2770,"v":-2.5},{"d":50,"f":2770,"g":2920,"v":-1.5},{"d":50,"f":2920,"g":3450,"v":-0.5},{"d":50,"f":3450,"g":3720,"v":-1.5},{"d":50,"f":3720,"g":4820,"v":-2.5},{"d":50,"f":4820,"g":5380,"v":-3.5},{"d":50,"f":5380,"g":6240,"v":-1.5},{"d":50,"f":6240,"g":7100,"v":-2.5},{"d":50,"f":7100,"g":9040,"v":-3.5},{"d":50,"f":9040,"g":9730,"v":-4.5},{"d":50,"f":9730,"g":10700,"v":-5.5},{"d":50,"f":10700,"g":11900,"v":-7.5},{"d":50,"f":11900,"g":15200,"v":-6.5},{"d":50,"f":15200,"g":16300,"v":-7.5},{"d":50,"f":16300,"g":20000,"v":-9.5},
      {"d":55,"f":200,"g":264,"v":-2.5},{"d":55,"f":264,"g":361,"v":-3.5},{"d":55,"f":361,"g":404,"v":-2.5},{"d":55,"f":404,"g":435,"v":-3.5},{"d":55,"f":435,"g":678,"v":-4.5},{"d":55,"f":678,"g":1140,"v":-5.5},{"d":55,"f":1140,"g":1470,"v":-6.5},{"d":55,"f":1470,"g":1710,"v":-5.5},{"d":55,"f":1710,"g":2480,"v":-4.5},{"d":55,"f":2480,"g":2620,"v":-3.5},{"d":55,"f":2620,"g":2820,"v":-2.5},{"d":55,"f":2820,"g":2980,"v":-1.5},{"d":55,"f":2980,"g":3390,"v":-0.5},{"d":55,"f":3390,"g":3650,"v":-1.5},{"d":55,"f":3650,"g":4820,"v":-2.5},{"d":55,"f":4820,"g":5480,"v":-3.5},{"d":55,"f":5480,"g":6240,"v":-1.5},{"d":55,"f":6240,"g":7100,"v":-2.5},{"d":55,"f":7100,"g":9040,"v":-3.5},{"d":55,"f":9040,"g":9730,"v":-4.5},{"d":55,"f":9730,"g":10500,"v":-5.5},{"d":55,"f":10500,"g":11900,"v":-7.5},{"d":55,"f":11900,"g":14900,"v":-6.5},{"d":55,"f":14900,"g":16000,"v":-7.5},{"d":55,"f":16000,"g":20000,"v":-9.5}
    ]
  }
}
